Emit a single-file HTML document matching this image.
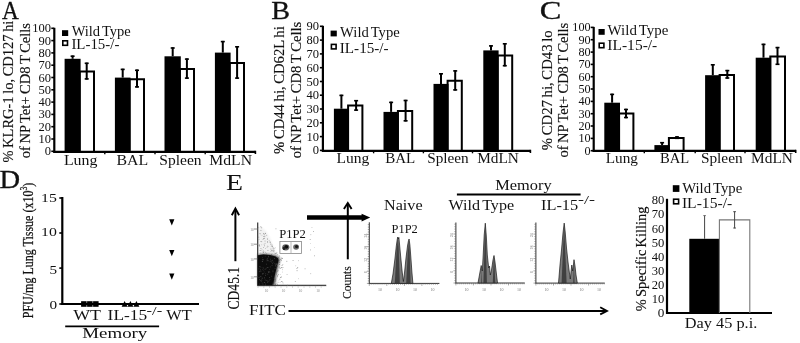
<!DOCTYPE html><html><head><meta charset="utf-8"><title>Figure</title><style>html,body{margin:0;padding:0;background:#fff;}svg{display:block;will-change:transform;}text{font-family:"Liberation Serif",serif;}</style></head><body>
<svg width="800" height="343" viewBox="0 0 800 343">
<rect x="0" y="0" width="800" height="343" fill="#fff"/>
<text x="2.0" y="18.8" font-size="25" text-anchor="start" fill="#111" textLength="16.8" lengthAdjust="spacingAndGlyphs" stroke="#111" stroke-width="0.3">A</text>
<text x="271.2" y="18.9" font-size="25" text-anchor="start" fill="#111" textLength="18.8" lengthAdjust="spacingAndGlyphs" stroke="#111" stroke-width="0.3">B</text>
<text x="539.7" y="19.0" font-size="25.5" text-anchor="start" fill="#111" textLength="21.6" lengthAdjust="spacingAndGlyphs" stroke="#111" stroke-width="0.3">C</text>
<text x="-0.6" y="187.6" font-size="24.5" text-anchor="start" fill="#111" textLength="20.6" lengthAdjust="spacingAndGlyphs" stroke="#111" stroke-width="0.3">D</text>
<text x="225.9" y="190.2" font-size="22.5" text-anchor="start" fill="#111" textLength="17.0" lengthAdjust="spacingAndGlyphs" >E</text>
<line x1="54.3" y1="27.8" x2="54.3" y2="152.8" stroke="#000" stroke-width="2.2"/>
<line x1="53.3" y1="151.8" x2="255.6" y2="151.8" stroke="#000" stroke-width="2.2"/>
<line x1="255.4" y1="150.8" x2="255.4" y2="154.0" stroke="#000" stroke-width="1.6"/>
<line x1="104.8" y1="151.8" x2="104.8" y2="154.3" stroke="#000" stroke-width="1.4"/>
<line x1="155.0" y1="151.8" x2="155.0" y2="154.3" stroke="#000" stroke-width="1.4"/>
<line x1="205.2" y1="151.8" x2="205.2" y2="154.3" stroke="#000" stroke-width="1.4"/>
<line x1="51.3" y1="151.3" x2="54.3" y2="151.3" stroke="#000" stroke-width="1.6"/>
<text x="51.0" y="155.3" font-size="12.5" text-anchor="end" fill="#111" >0</text>
<line x1="51.3" y1="139.0" x2="54.3" y2="139.0" stroke="#000" stroke-width="1.6"/>
<text x="51.0" y="143.0" font-size="12.5" text-anchor="end" fill="#111" >10</text>
<line x1="51.3" y1="126.7" x2="54.3" y2="126.7" stroke="#000" stroke-width="1.6"/>
<text x="51.0" y="130.7" font-size="12.5" text-anchor="end" fill="#111" >20</text>
<line x1="51.3" y1="114.4" x2="54.3" y2="114.4" stroke="#000" stroke-width="1.6"/>
<text x="51.0" y="118.4" font-size="12.5" text-anchor="end" fill="#111" >30</text>
<line x1="51.3" y1="102.1" x2="54.3" y2="102.1" stroke="#000" stroke-width="1.6"/>
<text x="51.0" y="106.1" font-size="12.5" text-anchor="end" fill="#111" >40</text>
<line x1="51.3" y1="89.8" x2="54.3" y2="89.8" stroke="#000" stroke-width="1.6"/>
<text x="51.0" y="93.8" font-size="12.5" text-anchor="end" fill="#111" >50</text>
<line x1="51.3" y1="77.5" x2="54.3" y2="77.5" stroke="#000" stroke-width="1.6"/>
<text x="51.0" y="81.5" font-size="12.5" text-anchor="end" fill="#111" >60</text>
<line x1="51.3" y1="65.2" x2="54.3" y2="65.2" stroke="#000" stroke-width="1.6"/>
<text x="51.0" y="69.2" font-size="12.5" text-anchor="end" fill="#111" >70</text>
<line x1="51.3" y1="52.9" x2="54.3" y2="52.9" stroke="#000" stroke-width="1.6"/>
<text x="51.0" y="56.9" font-size="12.5" text-anchor="end" fill="#111" >80</text>
<line x1="51.3" y1="40.6" x2="54.3" y2="40.6" stroke="#000" stroke-width="1.6"/>
<text x="51.0" y="44.6" font-size="12.5" text-anchor="end" fill="#111" >90</text>
<line x1="51.3" y1="28.3" x2="54.3" y2="28.3" stroke="#000" stroke-width="1.6"/>
<text x="51.0" y="32.3" font-size="12.5" text-anchor="end" fill="#111" >100</text>
<rect x="64.6" y="58.8" width="16.0" height="93.0" fill="#000"/>
<line x1="72.6" y1="55.5" x2="72.6" y2="58.8" stroke="#000" stroke-width="2"/>
<line x1="70.6" y1="56.2" x2="74.6" y2="56.2" stroke="#000" stroke-width="1.6"/>
<path d="M79.7,151.8 V71.5 H94.0 V151.8" fill="none" stroke="#000" stroke-width="2"/>
<line x1="86.7" y1="62.6" x2="86.7" y2="79.6" stroke="#000" stroke-width="2"/>
<line x1="84.7" y1="63.3" x2="88.7" y2="63.3" stroke="#000" stroke-width="1.6"/>
<line x1="84.7" y1="78.9" x2="88.7" y2="78.9" stroke="#000" stroke-width="1.6"/>
<rect x="114.9" y="77.6" width="15.6" height="74.2" fill="#000"/>
<line x1="122.7" y1="68.7" x2="122.7" y2="77.6" stroke="#000" stroke-width="2"/>
<line x1="120.7" y1="69.4" x2="124.7" y2="69.4" stroke="#000" stroke-width="1.6"/>
<path d="M129.6,151.8 V79.3 H144.0 V151.8" fill="none" stroke="#000" stroke-width="2"/>
<line x1="137.0" y1="69.6" x2="137.0" y2="87.6" stroke="#000" stroke-width="2"/>
<line x1="135.0" y1="70.3" x2="139.0" y2="70.3" stroke="#000" stroke-width="1.6"/>
<line x1="135.0" y1="86.9" x2="139.0" y2="86.9" stroke="#000" stroke-width="1.6"/>
<rect x="164.5" y="56.3" width="16.3" height="95.5" fill="#000"/>
<line x1="172.7" y1="47.3" x2="172.7" y2="56.3" stroke="#000" stroke-width="2"/>
<line x1="170.7" y1="48.0" x2="174.7" y2="48.0" stroke="#000" stroke-width="1.6"/>
<path d="M179.9,151.8 V69.0 H194.0 V151.8" fill="none" stroke="#000" stroke-width="2"/>
<line x1="186.9" y1="58.4" x2="186.9" y2="78.8" stroke="#000" stroke-width="2"/>
<line x1="184.9" y1="59.1" x2="188.9" y2="59.1" stroke="#000" stroke-width="1.6"/>
<line x1="184.9" y1="78.1" x2="188.9" y2="78.1" stroke="#000" stroke-width="1.6"/>
<rect x="214.9" y="52.6" width="15.7" height="99.2" fill="#000"/>
<line x1="222.8" y1="40.9" x2="222.8" y2="52.6" stroke="#000" stroke-width="2"/>
<line x1="220.8" y1="41.6" x2="224.8" y2="41.6" stroke="#000" stroke-width="1.6"/>
<path d="M229.7,151.8 V62.9 H244.0 V151.8" fill="none" stroke="#000" stroke-width="2"/>
<line x1="237.1" y1="46.1" x2="237.1" y2="78.8" stroke="#000" stroke-width="2"/>
<line x1="235.1" y1="46.8" x2="239.1" y2="46.8" stroke="#000" stroke-width="1.6"/>
<line x1="235.1" y1="78.1" x2="239.1" y2="78.1" stroke="#000" stroke-width="1.6"/>
<text x="63.9" y="164.6" font-size="14" text-anchor="start" fill="#111" textLength="33.5" lengthAdjust="spacingAndGlyphs" >Lung</text>
<text x="116.4" y="164.6" font-size="14" text-anchor="start" fill="#111" textLength="31.7" lengthAdjust="spacingAndGlyphs" >BAL</text>
<text x="159.3" y="164.6" font-size="14" text-anchor="start" fill="#111" textLength="42.3" lengthAdjust="spacingAndGlyphs" >Spleen</text>
<text x="209.3" y="164.6" font-size="14" text-anchor="start" fill="#111" textLength="42.7" lengthAdjust="spacingAndGlyphs" >MdLN</text>
<rect x="62.0" y="30.2" width="6.2" height="5.8" fill="#000"/>
<rect x="62.8" y="40.8" width="4.7" height="4.5" fill="#fff" stroke="#000" stroke-width="1.6"/>
<text x="71.7" y="36.3" font-size="14.5" text-anchor="start" fill="#111" textLength="59.1" lengthAdjust="spacingAndGlyphs" word-spacing="-1.5">Wild Type</text>
<text x="71.4" y="48.8" font-size="14" text-anchor="start" fill="#111" textLength="48.0" lengthAdjust="spacingAndGlyphs" >IL-15-/-</text>
<text transform="translate(13.3,91.6) rotate(-90)" x="0" y="0" font-size="14.8" text-anchor="middle" fill="#111" stroke="#111" stroke-width="0.15" textLength="142.0" lengthAdjust="spacingAndGlyphs" word-spacing="-1.0">% KLRG-1 lo, CD127 hi</text>
<text transform="translate(30.0,90.6) rotate(-90)" x="0" y="0" font-size="14.8" text-anchor="middle" fill="#111" stroke="#111" stroke-width="0.15" textLength="135.2" lengthAdjust="spacingAndGlyphs" word-spacing="-1.0">of NP Tet+ CD8 T Cells</text>
<line x1="322.9" y1="25.8" x2="322.9" y2="151.8" stroke="#000" stroke-width="2.2"/>
<line x1="321.9" y1="150.8" x2="530.6" y2="150.8" stroke="#000" stroke-width="2.2"/>
<line x1="530.4" y1="149.8" x2="530.4" y2="153.0" stroke="#000" stroke-width="1.6"/>
<line x1="373.6" y1="150.8" x2="373.6" y2="153.3" stroke="#000" stroke-width="1.4"/>
<line x1="423.4" y1="150.8" x2="423.4" y2="153.3" stroke="#000" stroke-width="1.4"/>
<line x1="472.5" y1="150.8" x2="472.5" y2="153.3" stroke="#000" stroke-width="1.4"/>
<line x1="319.9" y1="150.4" x2="322.9" y2="150.4" stroke="#000" stroke-width="1.6"/>
<text x="319.0" y="154.4" font-size="12.5" text-anchor="end" fill="#111" >0</text>
<line x1="319.9" y1="136.6" x2="322.9" y2="136.6" stroke="#000" stroke-width="1.6"/>
<text x="319.0" y="140.6" font-size="12.5" text-anchor="end" fill="#111" >10</text>
<line x1="319.9" y1="122.8" x2="322.9" y2="122.8" stroke="#000" stroke-width="1.6"/>
<text x="319.0" y="126.8" font-size="12.5" text-anchor="end" fill="#111" >20</text>
<line x1="319.9" y1="109.0" x2="322.9" y2="109.0" stroke="#000" stroke-width="1.6"/>
<text x="319.0" y="113.0" font-size="12.5" text-anchor="end" fill="#111" >30</text>
<line x1="319.9" y1="95.2" x2="322.9" y2="95.2" stroke="#000" stroke-width="1.6"/>
<text x="319.0" y="99.2" font-size="12.5" text-anchor="end" fill="#111" >40</text>
<line x1="319.9" y1="81.5" x2="322.9" y2="81.5" stroke="#000" stroke-width="1.6"/>
<text x="319.0" y="85.5" font-size="12.5" text-anchor="end" fill="#111" >50</text>
<line x1="319.9" y1="67.7" x2="322.9" y2="67.7" stroke="#000" stroke-width="1.6"/>
<text x="319.0" y="71.7" font-size="12.5" text-anchor="end" fill="#111" >60</text>
<line x1="319.9" y1="53.9" x2="322.9" y2="53.9" stroke="#000" stroke-width="1.6"/>
<text x="319.0" y="57.9" font-size="12.5" text-anchor="end" fill="#111" >70</text>
<line x1="319.9" y1="40.1" x2="322.9" y2="40.1" stroke="#000" stroke-width="1.6"/>
<text x="319.0" y="44.1" font-size="12.5" text-anchor="end" fill="#111" >80</text>
<line x1="319.9" y1="26.3" x2="322.9" y2="26.3" stroke="#000" stroke-width="1.6"/>
<text x="319.0" y="30.3" font-size="12.5" text-anchor="end" fill="#111" >90</text>
<rect x="333.9" y="108.7" width="15.1" height="42.1" fill="#000"/>
<line x1="341.4" y1="94.7" x2="341.4" y2="108.7" stroke="#000" stroke-width="2"/>
<line x1="339.4" y1="95.4" x2="343.4" y2="95.4" stroke="#000" stroke-width="1.6"/>
<path d="M348.1,150.8 V105.4 H362.4 V150.8" fill="none" stroke="#000" stroke-width="2"/>
<line x1="356.1" y1="100.0" x2="356.1" y2="110.8" stroke="#000" stroke-width="2"/>
<line x1="354.1" y1="100.7" x2="358.1" y2="100.7" stroke="#000" stroke-width="1.6"/>
<line x1="354.1" y1="110.1" x2="358.1" y2="110.1" stroke="#000" stroke-width="1.6"/>
<rect x="383.5" y="111.9" width="15.3" height="38.9" fill="#000"/>
<line x1="391.1" y1="101.7" x2="391.1" y2="111.9" stroke="#000" stroke-width="2"/>
<line x1="389.1" y1="102.4" x2="393.1" y2="102.4" stroke="#000" stroke-width="1.6"/>
<path d="M397.9,150.8 V111.0 H412.2 V150.8" fill="none" stroke="#000" stroke-width="2"/>
<line x1="405.6" y1="99.8" x2="405.6" y2="121.5" stroke="#000" stroke-width="2"/>
<line x1="403.6" y1="100.5" x2="407.6" y2="100.5" stroke="#000" stroke-width="1.6"/>
<line x1="403.6" y1="120.8" x2="407.6" y2="120.8" stroke="#000" stroke-width="1.6"/>
<rect x="433.5" y="83.9" width="15.0" height="66.9" fill="#000"/>
<line x1="441.0" y1="73.1" x2="441.0" y2="83.9" stroke="#000" stroke-width="2"/>
<line x1="439.0" y1="73.8" x2="443.0" y2="73.8" stroke="#000" stroke-width="1.6"/>
<path d="M447.6,150.8 V80.8 H461.8 V150.8" fill="none" stroke="#000" stroke-width="2"/>
<line x1="455.2" y1="70.2" x2="455.2" y2="90.6" stroke="#000" stroke-width="2"/>
<line x1="453.2" y1="70.9" x2="457.2" y2="70.9" stroke="#000" stroke-width="1.6"/>
<line x1="453.2" y1="89.9" x2="457.2" y2="89.9" stroke="#000" stroke-width="1.6"/>
<rect x="483.3" y="50.4" width="15.3" height="100.4" fill="#000"/>
<line x1="491.0" y1="45.2" x2="491.0" y2="50.4" stroke="#000" stroke-width="2"/>
<line x1="489.0" y1="45.9" x2="493.0" y2="45.9" stroke="#000" stroke-width="1.6"/>
<path d="M497.7,150.8 V55.5 H512.2 V150.8" fill="none" stroke="#000" stroke-width="2"/>
<line x1="504.8" y1="43.1" x2="504.8" y2="66.4" stroke="#000" stroke-width="2"/>
<line x1="502.8" y1="43.8" x2="506.8" y2="43.8" stroke="#000" stroke-width="1.6"/>
<line x1="502.8" y1="65.7" x2="506.8" y2="65.7" stroke="#000" stroke-width="1.6"/>
<text x="336.4" y="162.8" font-size="14" text-anchor="start" fill="#111" textLength="32.8" lengthAdjust="spacingAndGlyphs" >Lung</text>
<text x="385.2" y="162.8" font-size="14" text-anchor="start" fill="#111" textLength="30.1" lengthAdjust="spacingAndGlyphs" >BAL</text>
<text x="427.2" y="162.8" font-size="14" text-anchor="start" fill="#111" textLength="41.5" lengthAdjust="spacingAndGlyphs" >Spleen</text>
<text x="477.2" y="162.8" font-size="14" text-anchor="start" fill="#111" textLength="41.7" lengthAdjust="spacingAndGlyphs" >MdLN</text>
<rect x="330.6" y="30.6" width="6.2" height="5.8" fill="#000"/>
<rect x="331.4" y="44.4" width="4.7" height="4.5" fill="#fff" stroke="#000" stroke-width="1.6"/>
<text x="340.1" y="37.2" font-size="14.5" text-anchor="start" fill="#111" textLength="59.6" lengthAdjust="spacingAndGlyphs" word-spacing="-1.5">Wild Type</text>
<text x="339.8" y="52.6" font-size="14" text-anchor="start" fill="#111" textLength="48.8" lengthAdjust="spacingAndGlyphs" >IL-15-/-</text>
<text transform="translate(283.5,90.1) rotate(-90)" x="0" y="0" font-size="14.8" text-anchor="middle" fill="#111" stroke="#111" stroke-width="0.15" textLength="127.6" lengthAdjust="spacingAndGlyphs" word-spacing="-1.0">% CD44 hi, CD62L hi</text>
<text transform="translate(300.6,90.0) rotate(-90)" x="0" y="0" font-size="14.8" text-anchor="middle" fill="#111" stroke="#111" stroke-width="0.15" textLength="136.6" lengthAdjust="spacingAndGlyphs" word-spacing="-1.0">of NP Tet+ CD8 T Cells</text>
<line x1="593.7" y1="26.9" x2="593.7" y2="151.8" stroke="#000" stroke-width="2.2"/>
<line x1="592.7" y1="150.8" x2="795.9" y2="150.8" stroke="#000" stroke-width="2.2"/>
<line x1="795.7" y1="149.8" x2="795.7" y2="153.0" stroke="#000" stroke-width="1.6"/>
<line x1="644.3" y1="150.8" x2="644.3" y2="153.3" stroke="#000" stroke-width="1.4"/>
<line x1="695.2" y1="150.8" x2="695.2" y2="153.3" stroke="#000" stroke-width="1.4"/>
<line x1="745.0" y1="150.8" x2="745.0" y2="153.3" stroke="#000" stroke-width="1.4"/>
<line x1="590.7" y1="150.7" x2="593.7" y2="150.7" stroke="#000" stroke-width="1.6"/>
<text x="590.6" y="154.7" font-size="12.2" text-anchor="end" fill="#111" >0</text>
<line x1="590.7" y1="138.4" x2="593.7" y2="138.4" stroke="#000" stroke-width="1.6"/>
<text x="590.6" y="142.4" font-size="12.2" text-anchor="end" fill="#111" >10</text>
<line x1="590.7" y1="126.0" x2="593.7" y2="126.0" stroke="#000" stroke-width="1.6"/>
<text x="590.6" y="130.0" font-size="12.2" text-anchor="end" fill="#111" >20</text>
<line x1="590.7" y1="113.7" x2="593.7" y2="113.7" stroke="#000" stroke-width="1.6"/>
<text x="590.6" y="117.7" font-size="12.2" text-anchor="end" fill="#111" >30</text>
<line x1="590.7" y1="101.4" x2="593.7" y2="101.4" stroke="#000" stroke-width="1.6"/>
<text x="590.6" y="105.4" font-size="12.2" text-anchor="end" fill="#111" >40</text>
<line x1="590.7" y1="89.0" x2="593.7" y2="89.0" stroke="#000" stroke-width="1.6"/>
<text x="590.6" y="93.0" font-size="12.2" text-anchor="end" fill="#111" >50</text>
<line x1="590.7" y1="76.7" x2="593.7" y2="76.7" stroke="#000" stroke-width="1.6"/>
<text x="590.6" y="80.7" font-size="12.2" text-anchor="end" fill="#111" >60</text>
<line x1="590.7" y1="64.4" x2="593.7" y2="64.4" stroke="#000" stroke-width="1.6"/>
<text x="590.6" y="68.4" font-size="12.2" text-anchor="end" fill="#111" >70</text>
<line x1="590.7" y1="52.1" x2="593.7" y2="52.1" stroke="#000" stroke-width="1.6"/>
<text x="590.6" y="56.1" font-size="12.2" text-anchor="end" fill="#111" >80</text>
<line x1="590.7" y1="39.7" x2="593.7" y2="39.7" stroke="#000" stroke-width="1.6"/>
<text x="590.6" y="43.7" font-size="12.2" text-anchor="end" fill="#111" >90</text>
<line x1="590.7" y1="27.4" x2="593.7" y2="27.4" stroke="#000" stroke-width="1.6"/>
<text x="590.6" y="31.4" font-size="12.2" text-anchor="end" fill="#111" >100</text>
<rect x="604.3" y="102.7" width="15.7" height="48.1" fill="#000"/>
<line x1="612.1" y1="93.7" x2="612.1" y2="102.7" stroke="#000" stroke-width="2"/>
<line x1="610.1" y1="94.4" x2="614.1" y2="94.4" stroke="#000" stroke-width="1.6"/>
<path d="M619.1,150.8 V113.6 H633.4 V150.8" fill="none" stroke="#000" stroke-width="2"/>
<line x1="626.0" y1="108.8" x2="626.0" y2="118.2" stroke="#000" stroke-width="2"/>
<line x1="624.0" y1="109.5" x2="628.0" y2="109.5" stroke="#000" stroke-width="1.6"/>
<line x1="624.0" y1="117.5" x2="628.0" y2="117.5" stroke="#000" stroke-width="1.6"/>
<rect x="654.4" y="145.1" width="15.4" height="5.7" fill="#000"/>
<line x1="662.1" y1="142.0" x2="662.1" y2="145.1" stroke="#000" stroke-width="2"/>
<line x1="660.1" y1="142.7" x2="664.1" y2="142.7" stroke="#000" stroke-width="1.6"/>
<path d="M668.9,150.8 V138.0 H683.6 V150.8" fill="none" stroke="#000" stroke-width="2"/>
<line x1="677.0" y1="136.3" x2="677.0" y2="139.0" stroke="#000" stroke-width="2"/>
<line x1="675.0" y1="137.0" x2="679.0" y2="137.0" stroke="#000" stroke-width="1.6"/>
<line x1="675.0" y1="138.3" x2="679.0" y2="138.3" stroke="#000" stroke-width="1.6"/>
<rect x="705.1" y="75.2" width="15.4" height="75.6" fill="#000"/>
<line x1="712.8" y1="64.1" x2="712.8" y2="75.2" stroke="#000" stroke-width="2"/>
<line x1="710.8" y1="64.8" x2="714.8" y2="64.8" stroke="#000" stroke-width="1.6"/>
<path d="M719.6,150.8 V75.0 H734.0 V150.8" fill="none" stroke="#000" stroke-width="2"/>
<line x1="727.3" y1="69.9" x2="727.3" y2="78.7" stroke="#000" stroke-width="2"/>
<line x1="725.3" y1="70.6" x2="729.3" y2="70.6" stroke="#000" stroke-width="1.6"/>
<line x1="725.3" y1="78.0" x2="729.3" y2="78.0" stroke="#000" stroke-width="1.6"/>
<rect x="755.7" y="57.7" width="15.5" height="93.1" fill="#000"/>
<line x1="763.5" y1="43.7" x2="763.5" y2="57.7" stroke="#000" stroke-width="2"/>
<line x1="761.5" y1="44.4" x2="765.5" y2="44.4" stroke="#000" stroke-width="1.6"/>
<path d="M770.3,150.8 V56.4 H785.0 V150.8" fill="none" stroke="#000" stroke-width="2"/>
<line x1="777.5" y1="46.9" x2="777.5" y2="65.0" stroke="#000" stroke-width="2"/>
<line x1="775.5" y1="47.6" x2="779.5" y2="47.6" stroke="#000" stroke-width="1.6"/>
<line x1="775.5" y1="64.3" x2="779.5" y2="64.3" stroke="#000" stroke-width="1.6"/>
<text x="605.7" y="163.3" font-size="14" text-anchor="start" fill="#111" textLength="32.2" lengthAdjust="spacingAndGlyphs" >Lung</text>
<text x="660.0" y="163.3" font-size="14" text-anchor="start" fill="#111" textLength="29.2" lengthAdjust="spacingAndGlyphs" >BAL</text>
<text x="700.9" y="163.3" font-size="14" text-anchor="start" fill="#111" textLength="41.8" lengthAdjust="spacingAndGlyphs" >Spleen</text>
<text x="751.1" y="163.3" font-size="14" text-anchor="start" fill="#111" textLength="41.8" lengthAdjust="spacingAndGlyphs" >MdLN</text>
<rect x="598.5" y="29.0" width="6.2" height="5.8" fill="#000"/>
<rect x="599.2" y="43.2" width="4.7" height="4.5" fill="#fff" stroke="#000" stroke-width="1.6"/>
<text x="607.6" y="34.9" font-size="14.5" text-anchor="start" fill="#111" textLength="60.8" lengthAdjust="spacingAndGlyphs" word-spacing="-1.5">Wild Type</text>
<text x="607.3" y="50.3" font-size="14" text-anchor="start" fill="#111" textLength="50.0" lengthAdjust="spacingAndGlyphs" >IL-15-/-</text>
<text transform="translate(551.9,90.3) rotate(-90)" x="0" y="0" font-size="14.8" text-anchor="middle" fill="#111" stroke="#111" stroke-width="0.15" textLength="119.8" lengthAdjust="spacingAndGlyphs" word-spacing="-1.0">% CD27 hi, CD43 lo</text>
<text transform="translate(567.6,90.2) rotate(-90)" x="0" y="0" font-size="14.8" text-anchor="middle" fill="#111" stroke="#111" stroke-width="0.15" textLength="134.8" lengthAdjust="spacingAndGlyphs" word-spacing="-1.0">of NP Tet+ CD8 T Cells</text>
<line x1="62.3" y1="197.0" x2="62.3" y2="305.0" stroke="#000" stroke-width="2.2"/>
<line x1="61.3" y1="304.0" x2="199.0" y2="304.0" stroke="#000" stroke-width="2.0"/>
<line x1="59.3" y1="198.0" x2="62.3" y2="198.0" stroke="#000" stroke-width="1.6"/>
<text x="56.9" y="201.7" font-size="13" text-anchor="end" fill="#111" textLength="15.8" lengthAdjust="spacingAndGlyphs" >15</text>
<line x1="59.3" y1="233.0" x2="62.3" y2="233.0" stroke="#000" stroke-width="1.6"/>
<text x="56.9" y="235.9" font-size="13" text-anchor="end" fill="#111" textLength="15.8" lengthAdjust="spacingAndGlyphs" >10</text>
<line x1="59.3" y1="268.1" x2="62.3" y2="268.1" stroke="#000" stroke-width="1.6"/>
<text x="57.0" y="273.8" font-size="13.5" text-anchor="end" fill="#111" textLength="7.6" lengthAdjust="spacingAndGlyphs" >5</text>
<line x1="59.3" y1="304.0" x2="62.3" y2="304.0" stroke="#000" stroke-width="1.6"/>
<text x="57.0" y="309.0" font-size="13.5" text-anchor="end" fill="#111" textLength="7.6" lengthAdjust="spacingAndGlyphs" >0</text>
<rect x="81.1" y="301.2" width="5.5" height="5.6" fill="#000"/>
<rect x="87.1" y="301.2" width="5.5" height="5.6" fill="#000"/>
<rect x="93.1" y="301.2" width="5.5" height="5.6" fill="#000"/>
<polygon points="121.6,306.8 127.6,306.8 124.6,300.9" fill="#000"/>
<polygon points="127.4,306.8 133.4,306.8 130.4,300.9" fill="#000"/>
<polygon points="133.4,306.8 139.4,306.8 136.4,300.9" fill="#000"/>
<polygon points="169.2,219.2 174.4,219.2 171.8,225.4" fill="#000"/>
<polygon points="169.2,250.0 174.4,250.0 171.8,256.2" fill="#000"/>
<polygon points="169.2,273.5 174.4,273.5 171.8,279.7" fill="#000"/>
<text x="73.2" y="319.9" font-size="14.5" text-anchor="start" fill="#111" textLength="27.8" lengthAdjust="spacingAndGlyphs" >WT</text>
<text x="107.6" y="320.1" font-size="14.5" text-anchor="start" fill="#111" textLength="39.6" lengthAdjust="spacingAndGlyphs" >IL-15</text>
<text x="146.6" y="315.3" font-size="13" text-anchor="start" fill="#111" textLength="15.6" lengthAdjust="spacingAndGlyphs" >-/-</text>
<text x="166.3" y="319.9" font-size="14.5" text-anchor="start" fill="#111" textLength="25.5" lengthAdjust="spacingAndGlyphs" >WT</text>
<line x1="65.2" y1="326.4" x2="159.1" y2="326.4" stroke="#000" stroke-width="1.8"/>
<text x="82.3" y="338.2" font-size="14.5" text-anchor="start" fill="#111" textLength="65.0" lengthAdjust="spacingAndGlyphs" >Memory</text>
<text transform="translate(32.6,250.5) rotate(-90)" x="0" y="0" font-size="15.5" text-anchor="middle" fill="#111" stroke="#111" stroke-width="0.25" textLength="135.6" lengthAdjust="spacingAndGlyphs">PFU/mg Lung Tissue (x10<tspan font-size="10" dy="-6">3</tspan><tspan dy="6">)</tspan></text>
<line x1="235.4" y1="261.2" x2="235.4" y2="209.0" stroke="#000" stroke-width="2.0"/>
<path d="M231.8,215.3 L235.4,208.6 L239.1,215.3" fill="none" stroke="#000" stroke-width="1.9"/>
<text transform="translate(238.9,288.2) rotate(-90)" x="0" y="0" font-size="16.5" text-anchor="middle" fill="#111" stroke="#111" stroke-width="0.15" textLength="42.5" lengthAdjust="spacingAndGlyphs">CD45.1</text>
<line x1="257.7" y1="222.5" x2="257.7" y2="285.5" stroke="#333" stroke-width="1.2"/>
<line x1="257.2" y1="285.3" x2="326.2" y2="285.3" stroke="#333" stroke-width="1.2"/>
<line x1="254.0" y1="229.0" x2="257.7" y2="229.0" stroke="#777" stroke-width="0.8"/>
<text x="253.8" y="231.0" font-size="3.5" text-anchor="end" fill="#888" >10</text>
<line x1="254.0" y1="244.2" x2="257.7" y2="244.2" stroke="#777" stroke-width="0.8"/>
<text x="253.8" y="246.2" font-size="3.5" text-anchor="end" fill="#888" >10</text>
<line x1="254.0" y1="258.9" x2="257.7" y2="258.9" stroke="#777" stroke-width="0.8"/>
<text x="253.8" y="260.9" font-size="3.5" text-anchor="end" fill="#888" >10</text>
<line x1="254.0" y1="276.8" x2="257.7" y2="276.8" stroke="#777" stroke-width="0.8"/>
<text x="253.8" y="278.8" font-size="3.5" text-anchor="end" fill="#888" >10</text>
<text x="266.5" y="291.5" font-size="3.5" text-anchor="middle" fill="#888" >10</text>
<text x="283.5" y="291.5" font-size="3.5" text-anchor="middle" fill="#888" >10</text>
<text x="300.5" y="291.5" font-size="3.5" text-anchor="middle" fill="#888" >10</text>
<text x="318.0" y="291.5" font-size="3.5" text-anchor="middle" fill="#888" >10</text>
<line x1="258.0" y1="285.5" x2="258.0" y2="287.7" stroke="#999" stroke-width="0.5"/>
<line x1="259.1" y1="285.5" x2="259.1" y2="286.5" stroke="#999" stroke-width="0.5"/>
<line x1="260.3" y1="285.5" x2="260.3" y2="286.5" stroke="#999" stroke-width="0.5"/>
<line x1="261.4" y1="285.5" x2="261.4" y2="286.5" stroke="#999" stroke-width="0.5"/>
<line x1="262.6" y1="285.5" x2="262.6" y2="286.5" stroke="#999" stroke-width="0.5"/>
<line x1="263.8" y1="285.5" x2="263.8" y2="287.7" stroke="#999" stroke-width="0.5"/>
<line x1="264.9" y1="285.5" x2="264.9" y2="286.5" stroke="#999" stroke-width="0.5"/>
<line x1="266.1" y1="285.5" x2="266.1" y2="286.5" stroke="#999" stroke-width="0.5"/>
<line x1="267.2" y1="285.5" x2="267.2" y2="286.5" stroke="#999" stroke-width="0.5"/>
<line x1="268.4" y1="285.5" x2="268.4" y2="286.5" stroke="#999" stroke-width="0.5"/>
<line x1="269.5" y1="285.5" x2="269.5" y2="287.7" stroke="#999" stroke-width="0.5"/>
<line x1="270.6" y1="285.5" x2="270.6" y2="286.5" stroke="#999" stroke-width="0.5"/>
<line x1="271.8" y1="285.5" x2="271.8" y2="286.5" stroke="#999" stroke-width="0.5"/>
<line x1="272.9" y1="285.5" x2="272.9" y2="286.5" stroke="#999" stroke-width="0.5"/>
<line x1="274.1" y1="285.5" x2="274.1" y2="286.5" stroke="#999" stroke-width="0.5"/>
<line x1="275.2" y1="285.5" x2="275.2" y2="287.7" stroke="#999" stroke-width="0.5"/>
<line x1="276.4" y1="285.5" x2="276.4" y2="286.5" stroke="#999" stroke-width="0.5"/>
<line x1="277.6" y1="285.5" x2="277.6" y2="286.5" stroke="#999" stroke-width="0.5"/>
<line x1="278.7" y1="285.5" x2="278.7" y2="286.5" stroke="#999" stroke-width="0.5"/>
<line x1="279.9" y1="285.5" x2="279.9" y2="286.5" stroke="#999" stroke-width="0.5"/>
<line x1="281.0" y1="285.5" x2="281.0" y2="287.7" stroke="#999" stroke-width="0.5"/>
<line x1="282.1" y1="285.5" x2="282.1" y2="286.5" stroke="#999" stroke-width="0.5"/>
<line x1="283.3" y1="285.5" x2="283.3" y2="286.5" stroke="#999" stroke-width="0.5"/>
<line x1="284.4" y1="285.5" x2="284.4" y2="286.5" stroke="#999" stroke-width="0.5"/>
<line x1="285.6" y1="285.5" x2="285.6" y2="286.5" stroke="#999" stroke-width="0.5"/>
<line x1="286.8" y1="285.5" x2="286.8" y2="287.7" stroke="#999" stroke-width="0.5"/>
<line x1="287.9" y1="285.5" x2="287.9" y2="286.5" stroke="#999" stroke-width="0.5"/>
<line x1="289.1" y1="285.5" x2="289.1" y2="286.5" stroke="#999" stroke-width="0.5"/>
<line x1="290.2" y1="285.5" x2="290.2" y2="286.5" stroke="#999" stroke-width="0.5"/>
<line x1="291.4" y1="285.5" x2="291.4" y2="286.5" stroke="#999" stroke-width="0.5"/>
<line x1="292.5" y1="285.5" x2="292.5" y2="287.7" stroke="#999" stroke-width="0.5"/>
<line x1="293.6" y1="285.5" x2="293.6" y2="286.5" stroke="#999" stroke-width="0.5"/>
<line x1="294.8" y1="285.5" x2="294.8" y2="286.5" stroke="#999" stroke-width="0.5"/>
<line x1="295.9" y1="285.5" x2="295.9" y2="286.5" stroke="#999" stroke-width="0.5"/>
<line x1="297.1" y1="285.5" x2="297.1" y2="286.5" stroke="#999" stroke-width="0.5"/>
<line x1="298.2" y1="285.5" x2="298.2" y2="287.7" stroke="#999" stroke-width="0.5"/>
<line x1="299.4" y1="285.5" x2="299.4" y2="286.5" stroke="#999" stroke-width="0.5"/>
<line x1="300.6" y1="285.5" x2="300.6" y2="286.5" stroke="#999" stroke-width="0.5"/>
<line x1="301.7" y1="285.5" x2="301.7" y2="286.5" stroke="#999" stroke-width="0.5"/>
<line x1="302.9" y1="285.5" x2="302.9" y2="286.5" stroke="#999" stroke-width="0.5"/>
<line x1="304.0" y1="285.5" x2="304.0" y2="287.7" stroke="#999" stroke-width="0.5"/>
<line x1="305.1" y1="285.5" x2="305.1" y2="286.5" stroke="#999" stroke-width="0.5"/>
<line x1="306.3" y1="285.5" x2="306.3" y2="286.5" stroke="#999" stroke-width="0.5"/>
<line x1="307.4" y1="285.5" x2="307.4" y2="286.5" stroke="#999" stroke-width="0.5"/>
<line x1="308.6" y1="285.5" x2="308.6" y2="286.5" stroke="#999" stroke-width="0.5"/>
<line x1="309.8" y1="285.5" x2="309.8" y2="287.7" stroke="#999" stroke-width="0.5"/>
<line x1="310.9" y1="285.5" x2="310.9" y2="286.5" stroke="#999" stroke-width="0.5"/>
<line x1="312.1" y1="285.5" x2="312.1" y2="286.5" stroke="#999" stroke-width="0.5"/>
<line x1="313.2" y1="285.5" x2="313.2" y2="286.5" stroke="#999" stroke-width="0.5"/>
<line x1="314.4" y1="285.5" x2="314.4" y2="286.5" stroke="#999" stroke-width="0.5"/>
<line x1="315.5" y1="285.5" x2="315.5" y2="287.7" stroke="#999" stroke-width="0.5"/>
<line x1="316.6" y1="285.5" x2="316.6" y2="286.5" stroke="#999" stroke-width="0.5"/>
<line x1="317.8" y1="285.5" x2="317.8" y2="286.5" stroke="#999" stroke-width="0.5"/>
<line x1="318.9" y1="285.5" x2="318.9" y2="286.5" stroke="#999" stroke-width="0.5"/>
<line x1="320.1" y1="285.5" x2="320.1" y2="286.5" stroke="#999" stroke-width="0.5"/>
<line x1="321.2" y1="285.5" x2="321.2" y2="287.7" stroke="#999" stroke-width="0.5"/>
<line x1="322.4" y1="285.5" x2="322.4" y2="286.5" stroke="#999" stroke-width="0.5"/>
<line x1="323.6" y1="285.5" x2="323.6" y2="286.5" stroke="#999" stroke-width="0.5"/>
<line x1="324.7" y1="285.5" x2="324.7" y2="286.5" stroke="#999" stroke-width="0.5"/>
<line x1="325.9" y1="285.5" x2="325.9" y2="286.5" stroke="#999" stroke-width="0.5"/>
<defs><filter id="bl1" x="-50%" y="-50%" width="200%" height="200%"><feGaussianBlur stdDeviation="1.2"/></filter><filter id="bl2" x="-50%" y="-50%" width="200%" height="200%"><feGaussianBlur stdDeviation="0.8"/></filter></defs>
<path d="M258.3,227 L262,228 L266,231 L270,238 L273,246 L276,252 L279,256 L258.3,257 Z" fill="#000" opacity="0.05" filter="url(#bl1)"/>
<rect x="262.5" y="256.1" width="0.7" height="0.7" fill="rgb(97,97,97)"/><rect x="268.7" y="271.2" width="0.7" height="0.7" fill="rgb(128,128,128)"/><rect x="274.9" y="283.6" width="0.7" height="0.7" fill="rgb(143,143,143)"/><rect x="282.6" y="282.5" width="0.7" height="0.7" fill="rgb(161,161,161)"/><rect x="280.9" y="276.9" width="0.7" height="0.7" fill="rgb(147,147,147)"/><rect x="268.8" y="240.4" width="0.7" height="0.7" fill="rgb(158,158,158)"/><rect x="264.2" y="245.5" width="0.7" height="0.7" fill="rgb(116,116,116)"/><rect x="272.2" y="259.2" width="0.7" height="0.7" fill="rgb(143,143,143)"/><rect x="263.7" y="277.7" width="0.7" height="0.7" fill="rgb(175,175,175)"/><rect x="276.7" y="267.6" width="0.7" height="0.7" fill="rgb(160,160,160)"/><rect x="264.8" y="279.8" width="0.7" height="0.7" fill="rgb(103,103,103)"/><rect x="273.3" y="260.6" width="0.7" height="0.7" fill="rgb(123,123,123)"/><rect x="265.8" y="255.6" width="0.7" height="0.7" fill="rgb(104,104,104)"/><rect x="277.3" y="283.9" width="0.7" height="0.7" fill="rgb(94,94,94)"/><rect x="258.6" y="239.3" width="0.7" height="0.7" fill="rgb(141,141,141)"/><rect x="271.8" y="269.7" width="0.7" height="0.7" fill="rgb(173,173,173)"/><rect x="275.9" y="258.1" width="0.7" height="0.7" fill="rgb(97,97,97)"/><rect x="263.3" y="252.2" width="0.7" height="0.7" fill="rgb(99,99,99)"/><rect x="270.5" y="258.9" width="0.7" height="0.7" fill="rgb(157,157,157)"/><rect x="281.3" y="281.1" width="0.7" height="0.7" fill="rgb(91,91,91)"/><rect x="274.8" y="280.8" width="0.7" height="0.7" fill="rgb(124,124,124)"/><rect x="265.2" y="262.8" width="0.7" height="0.7" fill="rgb(154,154,154)"/><rect x="266.4" y="234.9" width="0.7" height="0.7" fill="rgb(133,133,133)"/><rect x="263.2" y="271.0" width="0.7" height="0.7" fill="rgb(106,106,106)"/><rect x="276.3" y="273.7" width="0.7" height="0.7" fill="rgb(118,118,118)"/><rect x="273.6" y="278.0" width="0.7" height="0.7" fill="rgb(169,169,169)"/><rect x="266.7" y="247.3" width="0.7" height="0.7" fill="rgb(166,166,166)"/><rect x="278.6" y="282.1" width="0.7" height="0.7" fill="rgb(187,187,187)"/><rect x="261.9" y="279.9" width="0.7" height="0.7" fill="rgb(185,185,185)"/><rect x="277.6" y="281.9" width="0.7" height="0.7" fill="rgb(185,185,185)"/><rect x="294.9" y="281.3" width="0.7" height="0.7" fill="rgb(119,119,119)"/><rect x="258.8" y="280.5" width="0.7" height="0.7" fill="rgb(178,178,178)"/><rect x="265.3" y="275.0" width="0.7" height="0.7" fill="rgb(162,162,162)"/><rect x="274.5" y="279.1" width="0.7" height="0.7" fill="rgb(98,98,98)"/><rect x="260.6" y="241.1" width="0.7" height="0.7" fill="rgb(114,114,114)"/><rect x="262.6" y="254.7" width="0.7" height="0.7" fill="rgb(167,167,167)"/><rect x="270.9" y="245.8" width="0.7" height="0.7" fill="rgb(116,116,116)"/><rect x="272.7" y="247.1" width="0.7" height="0.7" fill="rgb(154,154,154)"/><rect x="280.1" y="281.8" width="0.7" height="0.7" fill="rgb(199,199,199)"/><rect x="272.0" y="246.0" width="0.7" height="0.7" fill="rgb(141,141,141)"/><rect x="261.1" y="273.7" width="0.7" height="0.7" fill="rgb(171,171,171)"/><rect x="286.5" y="260.9" width="0.7" height="0.7" fill="rgb(96,96,96)"/><rect x="258.5" y="244.9" width="0.7" height="0.7" fill="rgb(135,135,135)"/><rect x="266.6" y="264.1" width="0.7" height="0.7" fill="rgb(193,193,193)"/><rect x="272.6" y="278.8" width="0.7" height="0.7" fill="rgb(158,158,158)"/><rect x="259.8" y="234.5" width="0.7" height="0.7" fill="rgb(189,189,189)"/><rect x="273.4" y="262.8" width="0.7" height="0.7" fill="rgb(185,185,185)"/><rect x="263.2" y="254.4" width="0.7" height="0.7" fill="rgb(120,120,120)"/><rect x="278.5" y="280.5" width="0.7" height="0.7" fill="rgb(187,187,187)"/><rect x="263.5" y="273.7" width="0.7" height="0.7" fill="rgb(90,90,90)"/><rect x="261.4" y="244.5" width="0.7" height="0.7" fill="rgb(178,178,178)"/><rect x="278.3" y="274.4" width="0.7" height="0.7" fill="rgb(110,110,110)"/><rect x="263.3" y="277.9" width="0.7" height="0.7" fill="rgb(116,116,116)"/><rect x="298.1" y="260.4" width="0.7" height="0.7" fill="rgb(164,164,164)"/><rect x="267.3" y="238.3" width="0.7" height="0.7" fill="rgb(156,156,156)"/><rect x="267.8" y="263.7" width="0.7" height="0.7" fill="rgb(109,109,109)"/><rect x="264.5" y="235.8" width="0.7" height="0.7" fill="rgb(94,94,94)"/><rect x="271.1" y="283.6" width="0.7" height="0.7" fill="rgb(92,92,92)"/><rect x="276.4" y="261.8" width="0.7" height="0.7" fill="rgb(143,143,143)"/><rect x="267.1" y="241.7" width="0.7" height="0.7" fill="rgb(100,100,100)"/><rect x="266.3" y="253.5" width="0.7" height="0.7" fill="rgb(149,149,149)"/><rect x="270.6" y="248.7" width="0.7" height="0.7" fill="rgb(102,102,102)"/><rect x="264.1" y="234.2" width="0.7" height="0.7" fill="rgb(189,189,189)"/><rect x="264.1" y="280.5" width="0.7" height="0.7" fill="rgb(195,195,195)"/><rect x="266.7" y="269.9" width="0.7" height="0.7" fill="rgb(161,161,161)"/><rect x="267.3" y="259.9" width="0.7" height="0.7" fill="rgb(156,156,156)"/><rect x="270.6" y="280.2" width="0.7" height="0.7" fill="rgb(102,102,102)"/><rect x="265.2" y="282.3" width="0.7" height="0.7" fill="rgb(162,162,162)"/><rect x="261.7" y="257.2" width="0.7" height="0.7" fill="rgb(96,96,96)"/><rect x="262.6" y="283.1" width="0.7" height="0.7" fill="rgb(119,119,119)"/><rect x="273.7" y="248.4" width="0.7" height="0.7" fill="rgb(124,124,124)"/><rect x="260.6" y="248.3" width="0.7" height="0.7" fill="rgb(113,113,113)"/><rect x="281.8" y="267.6" width="0.7" height="0.7" fill="rgb(193,193,193)"/><rect x="263.4" y="261.3" width="0.7" height="0.7" fill="rgb(129,129,129)"/><rect x="272.8" y="273.5" width="0.7" height="0.7" fill="rgb(102,102,102)"/><rect x="272.1" y="250.5" width="0.7" height="0.7" fill="rgb(102,102,102)"/><rect x="265.3" y="248.1" width="0.7" height="0.7" fill="rgb(165,165,165)"/><rect x="292.7" y="260.3" width="0.7" height="0.7" fill="rgb(96,96,96)"/><rect x="273.6" y="264.9" width="0.7" height="0.7" fill="rgb(159,159,159)"/><rect x="260.6" y="230.0" width="0.7" height="0.7" fill="rgb(111,111,111)"/><rect x="280.4" y="259.2" width="0.7" height="0.7" fill="rgb(135,135,135)"/><rect x="267.7" y="281.8" width="0.7" height="0.7" fill="rgb(131,131,131)"/><rect x="275.4" y="270.7" width="0.7" height="0.7" fill="rgb(98,98,98)"/><rect x="266.9" y="275.5" width="0.7" height="0.7" fill="rgb(169,169,169)"/><rect x="282.0" y="271.7" width="0.7" height="0.7" fill="rgb(178,178,178)"/><rect x="269.4" y="261.6" width="0.7" height="0.7" fill="rgb(118,118,118)"/><rect x="280.8" y="267.4" width="0.7" height="0.7" fill="rgb(129,129,129)"/><rect x="281.3" y="267.0" width="0.7" height="0.7" fill="rgb(121,121,121)"/><rect x="263.3" y="233.5" width="0.7" height="0.7" fill="rgb(90,90,90)"/><rect x="264.9" y="256.0" width="0.7" height="0.7" fill="rgb(141,141,141)"/><rect x="269.2" y="278.1" width="0.7" height="0.7" fill="rgb(136,136,136)"/><rect x="298.2" y="278.4" width="0.7" height="0.7" fill="rgb(180,180,180)"/><rect x="278.6" y="261.9" width="0.7" height="0.7" fill="rgb(104,104,104)"/><rect x="273.9" y="260.6" width="0.7" height="0.7" fill="rgb(176,176,176)"/><rect x="269.7" y="241.7" width="0.7" height="0.7" fill="rgb(95,95,95)"/><rect x="276.7" y="271.0" width="0.7" height="0.7" fill="rgb(101,101,101)"/><rect x="263.6" y="262.3" width="0.7" height="0.7" fill="rgb(177,177,177)"/><rect x="269.3" y="267.7" width="0.7" height="0.7" fill="rgb(197,197,197)"/><rect x="258.8" y="282.1" width="0.7" height="0.7" fill="rgb(182,182,182)"/><rect x="271.4" y="258.4" width="0.7" height="0.7" fill="rgb(155,155,155)"/><rect x="304.7" y="268.5" width="0.7" height="0.7" fill="rgb(122,122,122)"/><rect x="259.1" y="244.2" width="0.7" height="0.7" fill="rgb(154,154,154)"/><rect x="266.6" y="267.5" width="0.7" height="0.7" fill="rgb(163,163,163)"/><rect x="259.6" y="233.2" width="0.7" height="0.7" fill="rgb(180,180,180)"/><rect x="264.0" y="237.9" width="0.7" height="0.7" fill="rgb(106,106,106)"/><rect x="281.7" y="265.0" width="0.7" height="0.7" fill="rgb(97,97,97)"/><rect x="279.2" y="255.7" width="0.7" height="0.7" fill="rgb(122,122,122)"/><rect x="271.5" y="269.8" width="0.7" height="0.7" fill="rgb(93,93,93)"/><rect x="270.1" y="271.0" width="0.7" height="0.7" fill="rgb(167,167,167)"/><rect x="260.0" y="271.1" width="0.7" height="0.7" fill="rgb(200,200,200)"/><rect x="273.4" y="249.8" width="0.7" height="0.7" fill="rgb(116,116,116)"/><rect x="275.6" y="228.5" width="0.7" height="0.7" fill="rgb(121,121,121)"/><rect x="258.8" y="279.3" width="0.7" height="0.7" fill="rgb(184,184,184)"/><rect x="314.3" y="255.5" width="0.7" height="0.7" fill="rgb(118,118,118)"/><rect x="276.5" y="283.0" width="0.7" height="0.7" fill="rgb(185,185,185)"/><rect x="262.0" y="283.3" width="0.7" height="0.7" fill="rgb(174,174,174)"/><rect x="272.0" y="245.9" width="0.7" height="0.7" fill="rgb(138,138,138)"/><rect x="272.9" y="257.4" width="0.7" height="0.7" fill="rgb(123,123,123)"/><rect x="260.8" y="250.3" width="0.7" height="0.7" fill="rgb(181,181,181)"/><rect x="262.9" y="250.5" width="0.7" height="0.7" fill="rgb(143,143,143)"/><rect x="258.6" y="284.1" width="0.7" height="0.7" fill="rgb(123,123,123)"/><rect x="296.6" y="268.1" width="0.7" height="0.7" fill="rgb(98,98,98)"/><rect x="281.9" y="257.9" width="0.7" height="0.7" fill="rgb(125,125,125)"/><rect x="271.0" y="250.1" width="0.7" height="0.7" fill="rgb(116,116,116)"/><rect x="261.1" y="276.3" width="0.7" height="0.7" fill="rgb(166,166,166)"/><rect x="271.6" y="283.2" width="0.7" height="0.7" fill="rgb(109,109,109)"/><rect x="271.4" y="280.1" width="0.7" height="0.7" fill="rgb(166,166,166)"/><rect x="267.1" y="241.5" width="0.7" height="0.7" fill="rgb(134,134,134)"/><rect x="268.6" y="271.7" width="0.7" height="0.7" fill="rgb(98,98,98)"/><rect x="264.8" y="233.0" width="0.7" height="0.7" fill="rgb(94,94,94)"/><rect x="260.2" y="254.7" width="0.7" height="0.7" fill="rgb(172,172,172)"/><rect x="279.0" y="264.0" width="0.7" height="0.7" fill="rgb(90,90,90)"/><rect x="265.1" y="251.9" width="0.7" height="0.7" fill="rgb(158,158,158)"/><rect x="270.5" y="269.0" width="0.7" height="0.7" fill="rgb(111,111,111)"/><rect x="267.2" y="239.3" width="0.7" height="0.7" fill="rgb(140,140,140)"/><rect x="265.3" y="264.0" width="0.7" height="0.7" fill="rgb(121,121,121)"/><rect x="263.6" y="267.3" width="0.7" height="0.7" fill="rgb(110,110,110)"/><rect x="266.7" y="256.7" width="0.7" height="0.7" fill="rgb(140,140,140)"/><rect x="265.3" y="265.2" width="0.7" height="0.7" fill="rgb(195,195,195)"/><rect x="314.2" y="247.2" width="0.7" height="0.7" fill="rgb(199,199,199)"/><rect x="261.4" y="241.4" width="0.7" height="0.7" fill="rgb(136,136,136)"/><rect x="274.9" y="261.9" width="0.7" height="0.7" fill="rgb(188,188,188)"/><rect x="311.6" y="227.1" width="0.7" height="0.7" fill="rgb(163,163,163)"/><rect x="279.1" y="266.2" width="0.7" height="0.7" fill="rgb(197,197,197)"/><rect x="262.7" y="278.5" width="0.7" height="0.7" fill="rgb(189,189,189)"/><rect x="269.7" y="266.5" width="0.7" height="0.7" fill="rgb(123,123,123)"/><rect x="275.4" y="271.6" width="0.7" height="0.7" fill="rgb(184,184,184)"/><rect x="269.1" y="272.9" width="0.7" height="0.7" fill="rgb(155,155,155)"/><rect x="280.3" y="277.3" width="0.7" height="0.7" fill="rgb(93,93,93)"/><rect x="275.1" y="247.5" width="0.7" height="0.7" fill="rgb(185,185,185)"/><rect x="261.5" y="261.2" width="0.7" height="0.7" fill="rgb(122,122,122)"/><rect x="272.7" y="248.5" width="0.7" height="0.7" fill="rgb(119,119,119)"/><rect x="258.4" y="270.6" width="0.7" height="0.7" fill="rgb(133,133,133)"/><rect x="263.5" y="236.1" width="0.7" height="0.7" fill="rgb(91,91,91)"/><rect x="267.9" y="281.6" width="0.7" height="0.7" fill="rgb(140,140,140)"/><rect x="259.1" y="245.3" width="0.7" height="0.7" fill="rgb(104,104,104)"/><rect x="263.4" y="259.1" width="0.7" height="0.7" fill="rgb(127,127,127)"/><rect x="259.2" y="275.7" width="0.7" height="0.7" fill="rgb(135,135,135)"/><rect x="279.3" y="267.7" width="0.7" height="0.7" fill="rgb(190,190,190)"/><rect x="309.8" y="239.2" width="0.7" height="0.7" fill="rgb(102,102,102)"/><rect x="260.0" y="250.1" width="0.7" height="0.7" fill="rgb(148,148,148)"/><rect x="273.7" y="250.4" width="0.7" height="0.7" fill="rgb(133,133,133)"/><rect x="268.1" y="276.4" width="0.7" height="0.7" fill="rgb(100,100,100)"/><rect x="295.4" y="265.5" width="0.7" height="0.7" fill="rgb(172,172,172)"/><rect x="279.5" y="278.8" width="0.7" height="0.7" fill="rgb(119,119,119)"/><rect x="259.7" y="233.2" width="0.7" height="0.7" fill="rgb(151,151,151)"/><rect x="271.4" y="282.4" width="0.7" height="0.7" fill="rgb(142,142,142)"/><rect x="272.9" y="258.2" width="0.7" height="0.7" fill="rgb(109,109,109)"/><rect x="269.6" y="270.4" width="0.7" height="0.7" fill="rgb(122,122,122)"/><rect x="296.7" y="270.4" width="0.7" height="0.7" fill="rgb(91,91,91)"/><rect x="263.2" y="238.4" width="0.7" height="0.7" fill="rgb(112,112,112)"/><rect x="263.1" y="233.0" width="0.7" height="0.7" fill="rgb(169,169,169)"/><rect x="261.3" y="283.2" width="0.7" height="0.7" fill="rgb(183,183,183)"/><rect x="277.3" y="254.0" width="0.7" height="0.7" fill="rgb(167,167,167)"/><rect x="269.4" y="259.0" width="0.7" height="0.7" fill="rgb(171,171,171)"/><rect x="261.9" y="251.6" width="0.7" height="0.7" fill="rgb(180,180,180)"/><rect x="261.5" y="260.6" width="0.7" height="0.7" fill="rgb(96,96,96)"/><rect x="258.3" y="237.3" width="0.7" height="0.7" fill="rgb(190,190,190)"/><rect x="266.0" y="256.3" width="0.7" height="0.7" fill="rgb(195,195,195)"/><rect x="261.5" y="278.4" width="0.7" height="0.7" fill="rgb(130,130,130)"/><rect x="277.7" y="270.4" width="0.7" height="0.7" fill="rgb(115,115,115)"/><rect x="271.7" y="244.7" width="0.7" height="0.7" fill="rgb(98,98,98)"/><rect x="267.5" y="265.6" width="0.7" height="0.7" fill="rgb(114,114,114)"/><rect x="270.4" y="268.5" width="0.7" height="0.7" fill="rgb(129,129,129)"/><rect x="260.5" y="226.5" width="0.7" height="0.7" fill="rgb(92,92,92)"/><rect x="277.2" y="265.9" width="0.7" height="0.7" fill="rgb(149,149,149)"/><rect x="276.7" y="269.8" width="0.7" height="0.7" fill="rgb(168,168,168)"/><rect x="286.7" y="274.2" width="0.7" height="0.7" fill="rgb(144,144,144)"/><rect x="263.3" y="271.0" width="0.7" height="0.7" fill="rgb(125,125,125)"/><rect x="273.2" y="271.3" width="0.7" height="0.7" fill="rgb(155,155,155)"/><rect x="260.2" y="252.5" width="0.7" height="0.7" fill="rgb(198,198,198)"/><rect x="267.8" y="279.0" width="0.7" height="0.7" fill="rgb(199,199,199)"/><rect x="279.1" y="260.4" width="0.7" height="0.7" fill="rgb(180,180,180)"/><rect x="272.4" y="283.1" width="0.7" height="0.7" fill="rgb(91,91,91)"/><rect x="264.7" y="240.7" width="0.7" height="0.7" fill="rgb(114,114,114)"/><rect x="297.4" y="267.1" width="0.7" height="0.7" fill="rgb(96,96,96)"/><rect x="264.7" y="272.2" width="0.7" height="0.7" fill="rgb(129,129,129)"/><rect x="261.7" y="249.1" width="0.7" height="0.7" fill="rgb(186,186,186)"/><rect x="262.8" y="269.6" width="0.7" height="0.7" fill="rgb(189,189,189)"/><rect x="261.7" y="254.3" width="0.7" height="0.7" fill="rgb(103,103,103)"/><rect x="273.2" y="251.0" width="0.7" height="0.7" fill="rgb(149,149,149)"/><rect x="258.5" y="236.8" width="0.7" height="0.7" fill="rgb(115,115,115)"/><rect x="261.6" y="234.9" width="0.7" height="0.7" fill="rgb(170,170,170)"/><rect x="264.8" y="242.9" width="0.7" height="0.7" fill="rgb(164,164,164)"/><rect x="267.6" y="250.1" width="0.7" height="0.7" fill="rgb(106,106,106)"/><rect x="270.6" y="250.9" width="0.7" height="0.7" fill="rgb(129,129,129)"/><rect x="275.9" y="272.1" width="0.7" height="0.7" fill="rgb(150,150,150)"/><rect x="281.2" y="259.8" width="0.7" height="0.7" fill="rgb(92,92,92)"/><rect x="263.5" y="251.4" width="0.7" height="0.7" fill="rgb(146,146,146)"/><rect x="272.2" y="275.9" width="0.7" height="0.7" fill="rgb(165,165,165)"/><rect x="310.5" y="234.4" width="0.7" height="0.7" fill="rgb(142,142,142)"/><rect x="277.3" y="275.2" width="0.7" height="0.7" fill="rgb(143,143,143)"/><rect x="259.6" y="278.5" width="0.7" height="0.7" fill="rgb(90,90,90)"/><rect x="279.9" y="268.3" width="0.7" height="0.7" fill="rgb(118,118,118)"/><rect x="261.7" y="280.8" width="0.7" height="0.7" fill="rgb(169,169,169)"/><rect x="265.3" y="232.9" width="0.7" height="0.7" fill="rgb(125,125,125)"/><rect x="275.7" y="268.4" width="0.7" height="0.7" fill="rgb(116,116,116)"/><rect x="269.6" y="282.1" width="0.7" height="0.7" fill="rgb(185,185,185)"/><rect x="267.4" y="242.0" width="0.7" height="0.7" fill="rgb(193,193,193)"/><rect x="263.2" y="238.6" width="0.7" height="0.7" fill="rgb(152,152,152)"/><rect x="310.2" y="249.6" width="0.7" height="0.7" fill="rgb(123,123,123)"/><rect x="259.6" y="250.3" width="0.7" height="0.7" fill="rgb(166,166,166)"/><rect x="273.4" y="280.1" width="0.7" height="0.7" fill="rgb(139,139,139)"/><rect x="259.4" y="246.2" width="0.7" height="0.7" fill="rgb(150,150,150)"/><rect x="275.0" y="258.5" width="0.7" height="0.7" fill="rgb(148,148,148)"/><rect x="263.8" y="263.8" width="0.7" height="0.7" fill="rgb(150,150,150)"/><rect x="277.8" y="257.4" width="0.7" height="0.7" fill="rgb(100,100,100)"/><rect x="270.5" y="243.8" width="0.7" height="0.7" fill="rgb(109,109,109)"/><rect x="282.5" y="264.2" width="0.7" height="0.7" fill="rgb(147,147,147)"/><rect x="273.6" y="247.7" width="0.7" height="0.7" fill="rgb(180,180,180)"/><rect x="275.0" y="265.2" width="0.7" height="0.7" fill="rgb(154,154,154)"/><rect x="275.9" y="253.4" width="0.7" height="0.7" fill="rgb(172,172,172)"/><rect x="261.4" y="279.4" width="0.7" height="0.7" fill="rgb(188,188,188)"/><rect x="267.1" y="265.9" width="0.7" height="0.7" fill="rgb(105,105,105)"/><rect x="269.9" y="241.9" width="0.7" height="0.7" fill="rgb(131,131,131)"/><rect x="263.6" y="264.3" width="0.7" height="0.7" fill="rgb(121,121,121)"/><rect x="263.2" y="247.2" width="0.7" height="0.7" fill="rgb(142,142,142)"/><rect x="279.9" y="274.2" width="0.7" height="0.7" fill="rgb(186,186,186)"/><rect x="273.7" y="251.9" width="0.7" height="0.7" fill="rgb(187,187,187)"/><rect x="281.0" y="257.7" width="0.7" height="0.7" fill="rgb(136,136,136)"/><rect x="264.1" y="243.7" width="0.7" height="0.7" fill="rgb(197,197,197)"/><rect x="274.7" y="253.4" width="0.7" height="0.7" fill="rgb(115,115,115)"/><rect x="275.4" y="279.6" width="0.7" height="0.7" fill="rgb(108,108,108)"/><rect x="268.3" y="268.2" width="0.7" height="0.7" fill="rgb(186,186,186)"/><rect x="279.4" y="262.4" width="0.7" height="0.7" fill="rgb(155,155,155)"/><rect x="282.8" y="283.7" width="0.7" height="0.7" fill="rgb(181,181,181)"/><rect x="266.9" y="246.2" width="0.7" height="0.7" fill="rgb(164,164,164)"/><rect x="282.0" y="269.4" width="0.7" height="0.7" fill="rgb(170,170,170)"/><rect x="259.8" y="253.2" width="0.7" height="0.7" fill="rgb(199,199,199)"/><rect x="278.2" y="258.9" width="0.7" height="0.7" fill="rgb(183,183,183)"/><rect x="260.0" y="280.1" width="0.7" height="0.7" fill="rgb(95,95,95)"/><rect x="273.9" y="251.5" width="0.7" height="0.7" fill="rgb(200,200,200)"/><rect x="282.1" y="281.5" width="0.7" height="0.7" fill="rgb(143,143,143)"/><rect x="268.9" y="255.0" width="0.7" height="0.7" fill="rgb(101,101,101)"/><rect x="261.8" y="268.2" width="0.7" height="0.7" fill="rgb(193,193,193)"/><rect x="266.9" y="283.6" width="0.7" height="0.7" fill="rgb(164,164,164)"/><rect x="275.2" y="266.3" width="0.7" height="0.7" fill="rgb(167,167,167)"/><rect x="270.6" y="243.5" width="0.7" height="0.7" fill="rgb(187,187,187)"/><rect x="267.2" y="245.6" width="0.7" height="0.7" fill="rgb(195,195,195)"/><rect x="262.3" y="239.1" width="0.7" height="0.7" fill="rgb(195,195,195)"/><rect x="274.1" y="260.7" width="0.7" height="0.7" fill="rgb(189,189,189)"/><rect x="260.8" y="260.8" width="0.7" height="0.7" fill="rgb(113,113,113)"/><rect x="267.8" y="246.0" width="0.7" height="0.7" fill="rgb(173,173,173)"/><rect x="267.3" y="263.7" width="0.7" height="0.7" fill="rgb(107,107,107)"/><rect x="277.2" y="276.4" width="0.7" height="0.7" fill="rgb(102,102,102)"/><rect x="262.7" y="258.2" width="0.7" height="0.7" fill="rgb(123,123,123)"/><rect x="263.9" y="281.5" width="0.7" height="0.7" fill="rgb(171,171,171)"/><rect x="278.5" y="259.9" width="0.7" height="0.7" fill="rgb(198,198,198)"/><rect x="271.0" y="254.0" width="0.7" height="0.7" fill="rgb(117,117,117)"/><rect x="263.8" y="279.9" width="0.7" height="0.7" fill="rgb(179,179,179)"/><rect x="259.9" y="275.3" width="0.7" height="0.7" fill="rgb(97,97,97)"/><rect x="276.5" y="252.4" width="0.7" height="0.7" fill="rgb(141,141,141)"/><rect x="271.4" y="274.6" width="0.7" height="0.7" fill="rgb(99,99,99)"/><rect x="258.4" y="227.4" width="0.7" height="0.7" fill="rgb(145,145,145)"/><rect x="265.6" y="269.7" width="0.7" height="0.7" fill="rgb(131,131,131)"/><rect x="258.5" y="238.4" width="0.7" height="0.7" fill="rgb(198,198,198)"/><rect x="310.4" y="273.4" width="0.7" height="0.7" fill="rgb(143,143,143)"/><rect x="280.9" y="276.2" width="0.7" height="0.7" fill="rgb(175,175,175)"/><rect x="281.8" y="258.0" width="0.7" height="0.7" fill="rgb(102,102,102)"/><rect x="275.5" y="277.8" width="0.7" height="0.7" fill="rgb(146,146,146)"/><rect x="264.1" y="272.2" width="0.7" height="0.7" fill="rgb(107,107,107)"/><rect x="275.5" y="253.2" width="0.7" height="0.7" fill="rgb(111,111,111)"/><rect x="271.7" y="252.9" width="0.7" height="0.7" fill="rgb(185,185,185)"/><rect x="261.2" y="276.9" width="0.7" height="0.7" fill="rgb(120,120,120)"/><rect x="313.3" y="231.3" width="0.7" height="0.7" fill="rgb(116,116,116)"/><rect x="278.8" y="267.3" width="0.7" height="0.7" fill="rgb(156,156,156)"/><rect x="268.4" y="258.5" width="0.7" height="0.7" fill="rgb(104,104,104)"/><rect x="263.7" y="243.8" width="0.7" height="0.7" fill="rgb(167,167,167)"/><rect x="264.1" y="234.0" width="0.7" height="0.7" fill="rgb(184,184,184)"/><rect x="268.8" y="259.0" width="0.7" height="0.7" fill="rgb(150,150,150)"/><rect x="259.8" y="277.6" width="0.7" height="0.7" fill="rgb(168,168,168)"/><rect x="264.4" y="258.6" width="0.7" height="0.7" fill="rgb(132,132,132)"/><rect x="266.6" y="256.4" width="0.7" height="0.7" fill="rgb(128,128,128)"/><rect x="282.6" y="267.2" width="0.7" height="0.7" fill="rgb(110,110,110)"/><rect x="261.4" y="227.5" width="0.7" height="0.7" fill="rgb(97,97,97)"/><rect x="310.0" y="243.2" width="0.7" height="0.7" fill="rgb(189,189,189)"/><rect x="287.2" y="284.6" width="0.7" height="0.7" fill="rgb(163,163,163)"/><rect x="275.1" y="284.4" width="0.7" height="0.7" fill="rgb(97,97,97)"/><rect x="270.2" y="255.7" width="0.7" height="0.7" fill="rgb(141,141,141)"/><rect x="266.2" y="277.7" width="0.7" height="0.7" fill="rgb(173,173,173)"/><rect x="270.7" y="256.2" width="0.7" height="0.7" fill="rgb(175,175,175)"/><rect x="275.4" y="252.8" width="0.7" height="0.7" fill="rgb(168,168,168)"/><rect x="268.9" y="263.9" width="0.7" height="0.7" fill="rgb(197,197,197)"/><rect x="266.7" y="256.9" width="0.7" height="0.7" fill="rgb(105,105,105)"/><rect x="267.3" y="270.6" width="0.7" height="0.7" fill="rgb(109,109,109)"/>
<path d="M257.8,254.5 L264,253.8 L270,254.2 L276,255.3 L279.5,257.5 L280.2,260 L278.5,266 L277,272 L275.8,279 L275.2,285.2 L257.8,285.2 Z" fill="#222" opacity="0.75" filter="url(#bl1)"/>
<path d="M257.8,255.2 L264,254.6 L270,255 L275,256.2 L278,258.2 L278.5,260.5 L277,266 L275.5,272 L274,279 L273.2,285.2 L257.8,285.2 Z" fill="#0c0c0c"/>
<rect x="268.7" y="261.4" width="0.7" height="0.7" fill="rgb(52,52,52)"/><rect x="261.0" y="280.8" width="0.7" height="0.7" fill="rgb(86,86,86)"/><rect x="267.8" y="267.0" width="0.7" height="0.7" fill="rgb(60,60,60)"/><rect x="262.6" y="284.0" width="0.7" height="0.7" fill="rgb(57,57,57)"/><rect x="268.2" y="255.9" width="0.7" height="0.7" fill="rgb(100,100,100)"/><rect x="267.5" y="280.8" width="0.7" height="0.7" fill="rgb(52,52,52)"/><rect x="262.5" y="283.4" width="0.7" height="0.7" fill="rgb(55,55,55)"/><rect x="262.5" y="267.5" width="0.7" height="0.7" fill="rgb(54,54,54)"/><rect x="269.3" y="269.2" width="0.7" height="0.7" fill="rgb(52,52,52)"/><rect x="271.5" y="260.6" width="0.7" height="0.7" fill="rgb(94,94,94)"/><rect x="267.4" y="257.9" width="0.7" height="0.7" fill="rgb(77,77,77)"/><rect x="276.1" y="264.2" width="0.7" height="0.7" fill="rgb(93,93,93)"/><rect x="259.3" y="266.4" width="0.7" height="0.7" fill="rgb(82,82,82)"/><rect x="273.8" y="278.0" width="0.7" height="0.7" fill="rgb(88,88,88)"/><rect x="262.9" y="270.1" width="0.7" height="0.7" fill="rgb(53,53,53)"/><rect x="264.8" y="279.7" width="0.7" height="0.7" fill="rgb(93,93,93)"/><rect x="267.5" y="273.8" width="0.7" height="0.7" fill="rgb(87,87,87)"/><rect x="266.9" y="267.2" width="0.7" height="0.7" fill="rgb(100,100,100)"/><rect x="266.5" y="280.2" width="0.7" height="0.7" fill="rgb(89,89,89)"/><rect x="274.7" y="256.4" width="0.7" height="0.7" fill="rgb(50,50,50)"/><rect x="263.0" y="273.4" width="0.7" height="0.7" fill="rgb(83,83,83)"/><rect x="274.1" y="258.1" width="0.7" height="0.7" fill="rgb(87,87,87)"/><rect x="262.7" y="259.5" width="0.7" height="0.7" fill="rgb(98,98,98)"/><rect x="272.6" y="282.8" width="0.7" height="0.7" fill="rgb(100,100,100)"/><rect x="269.5" y="271.8" width="0.7" height="0.7" fill="rgb(96,96,96)"/><rect x="267.9" y="271.4" width="0.7" height="0.7" fill="rgb(79,79,79)"/><rect x="262.0" y="260.9" width="0.7" height="0.7" fill="rgb(95,95,95)"/><rect x="260.6" y="275.9" width="0.7" height="0.7" fill="rgb(90,90,90)"/><rect x="272.6" y="271.5" width="0.7" height="0.7" fill="rgb(72,72,72)"/><rect x="265.4" y="273.5" width="0.7" height="0.7" fill="rgb(83,83,83)"/><rect x="268.5" y="281.5" width="0.7" height="0.7" fill="rgb(88,88,88)"/><rect x="261.9" y="277.6" width="0.7" height="0.7" fill="rgb(62,62,62)"/><rect x="267.4" y="280.8" width="0.7" height="0.7" fill="rgb(61,61,61)"/><rect x="262.3" y="273.5" width="0.7" height="0.7" fill="rgb(96,96,96)"/><rect x="263.0" y="267.7" width="0.7" height="0.7" fill="rgb(81,81,81)"/><rect x="265.8" y="267.9" width="0.7" height="0.7" fill="rgb(64,64,64)"/><rect x="274.7" y="268.3" width="0.7" height="0.7" fill="rgb(80,80,80)"/><rect x="265.2" y="275.0" width="0.7" height="0.7" fill="rgb(81,81,81)"/><rect x="272.8" y="261.8" width="0.7" height="0.7" fill="rgb(72,72,72)"/><rect x="263.8" y="271.6" width="0.7" height="0.7" fill="rgb(60,60,60)"/><rect x="262.3" y="257.4" width="0.7" height="0.7" fill="rgb(63,63,63)"/><rect x="265.1" y="282.8" width="0.7" height="0.7" fill="rgb(55,55,55)"/><rect x="268.1" y="256.7" width="0.7" height="0.7" fill="rgb(67,67,67)"/><rect x="275.5" y="265.1" width="0.7" height="0.7" fill="rgb(92,92,92)"/><rect x="264.2" y="282.2" width="0.7" height="0.7" fill="rgb(78,78,78)"/><rect x="268.8" y="280.1" width="0.7" height="0.7" fill="rgb(57,57,57)"/><rect x="260.6" y="270.8" width="0.7" height="0.7" fill="rgb(91,91,91)"/><rect x="269.6" y="279.2" width="0.7" height="0.7" fill="rgb(78,78,78)"/><rect x="264.2" y="277.5" width="0.7" height="0.7" fill="rgb(89,89,89)"/><rect x="261.9" y="278.4" width="0.7" height="0.7" fill="rgb(83,83,83)"/><rect x="261.9" y="261.0" width="0.7" height="0.7" fill="rgb(95,95,95)"/><rect x="272.3" y="259.9" width="0.7" height="0.7" fill="rgb(83,83,83)"/><rect x="266.2" y="263.8" width="0.7" height="0.7" fill="rgb(79,79,79)"/><rect x="272.6" y="270.6" width="0.7" height="0.7" fill="rgb(97,97,97)"/><rect x="258.9" y="271.1" width="0.7" height="0.7" fill="rgb(54,54,54)"/><rect x="269.9" y="266.6" width="0.7" height="0.7" fill="rgb(80,80,80)"/><rect x="259.9" y="276.4" width="0.7" height="0.7" fill="rgb(59,59,59)"/><rect x="261.6" y="280.2" width="0.7" height="0.7" fill="rgb(60,60,60)"/><rect x="258.7" y="277.0" width="0.7" height="0.7" fill="rgb(96,96,96)"/><rect x="276.7" y="266.3" width="0.7" height="0.7" fill="rgb(85,85,85)"/><rect x="259.2" y="283.7" width="0.7" height="0.7" fill="rgb(62,62,62)"/><rect x="259.9" y="276.1" width="0.7" height="0.7" fill="rgb(53,53,53)"/><rect x="261.5" y="277.7" width="0.7" height="0.7" fill="rgb(50,50,50)"/><rect x="271.4" y="261.8" width="0.7" height="0.7" fill="rgb(70,70,70)"/><rect x="260.1" y="269.4" width="0.7" height="0.7" fill="rgb(72,72,72)"/><rect x="266.7" y="258.8" width="0.7" height="0.7" fill="rgb(99,99,99)"/><rect x="261.7" y="282.6" width="0.7" height="0.7" fill="rgb(65,65,65)"/><rect x="269.0" y="271.0" width="0.7" height="0.7" fill="rgb(60,60,60)"/><rect x="262.5" y="259.1" width="0.7" height="0.7" fill="rgb(96,96,96)"/><rect x="262.1" y="273.6" width="0.7" height="0.7" fill="rgb(70,70,70)"/><rect x="259.8" y="266.4" width="0.7" height="0.7" fill="rgb(73,73,73)"/><rect x="260.1" y="280.5" width="0.7" height="0.7" fill="rgb(82,82,82)"/><rect x="265.0" y="284.6" width="0.7" height="0.7" fill="rgb(94,94,94)"/><rect x="276.2" y="263.2" width="0.7" height="0.7" fill="rgb(64,64,64)"/><rect x="264.1" y="277.7" width="0.7" height="0.7" fill="rgb(51,51,51)"/><rect x="261.3" y="279.5" width="0.7" height="0.7" fill="rgb(67,67,67)"/><rect x="271.7" y="265.2" width="0.7" height="0.7" fill="rgb(80,80,80)"/><rect x="268.0" y="272.0" width="0.7" height="0.7" fill="rgb(99,99,99)"/><rect x="259.8" y="270.6" width="0.7" height="0.7" fill="rgb(66,66,66)"/><rect x="267.5" y="260.3" width="0.7" height="0.7" fill="rgb(79,79,79)"/><rect x="275.1" y="266.2" width="0.7" height="0.7" fill="rgb(50,50,50)"/><rect x="272.1" y="263.4" width="0.7" height="0.7" fill="rgb(85,85,85)"/><rect x="272.4" y="284.1" width="0.7" height="0.7" fill="rgb(96,96,96)"/><rect x="270.2" y="258.8" width="0.7" height="0.7" fill="rgb(83,83,83)"/><rect x="276.3" y="269.4" width="0.7" height="0.7" fill="rgb(98,98,98)"/><rect x="263.9" y="282.3" width="0.7" height="0.7" fill="rgb(89,89,89)"/><rect x="266.7" y="260.5" width="0.7" height="0.7" fill="rgb(81,81,81)"/><rect x="274.9" y="264.5" width="0.7" height="0.7" fill="rgb(95,95,95)"/><rect x="260.6" y="267.3" width="0.7" height="0.7" fill="rgb(51,51,51)"/><rect x="259.8" y="280.2" width="0.7" height="0.7" fill="rgb(65,65,65)"/><rect x="259.1" y="271.4" width="0.7" height="0.7" fill="rgb(62,62,62)"/><rect x="267.1" y="282.1" width="0.7" height="0.7" fill="rgb(70,70,70)"/><rect x="269.1" y="277.2" width="0.7" height="0.7" fill="rgb(92,92,92)"/><rect x="268.1" y="271.4" width="0.7" height="0.7" fill="rgb(66,66,66)"/><rect x="267.7" y="260.2" width="0.7" height="0.7" fill="rgb(71,71,71)"/><rect x="271.4" y="275.8" width="0.7" height="0.7" fill="rgb(82,82,82)"/><rect x="270.3" y="260.8" width="0.7" height="0.7" fill="rgb(83,83,83)"/><rect x="258.6" y="268.6" width="0.7" height="0.7" fill="rgb(77,77,77)"/><rect x="262.3" y="269.3" width="0.7" height="0.7" fill="rgb(54,54,54)"/><rect x="263.8" y="268.9" width="0.7" height="0.7" fill="rgb(59,59,59)"/><rect x="259.1" y="279.1" width="0.7" height="0.7" fill="rgb(76,76,76)"/><rect x="274.6" y="263.1" width="0.7" height="0.7" fill="rgb(77,77,77)"/><rect x="265.4" y="268.8" width="0.7" height="0.7" fill="rgb(84,84,84)"/><rect x="264.9" y="255.8" width="0.7" height="0.7" fill="rgb(55,55,55)"/>
<rect x="279.9" y="241.4" width="21.6" height="12.0" fill="none" stroke="#888" stroke-width="0.8"/>
<line x1="291.0" y1="241.4" x2="291.0" y2="253.4" stroke="#aaa" stroke-width="0.8"/>
<defs><filter id="bl3" x="-50%" y="-50%" width="200%" height="200%"><feGaussianBlur stdDeviation="0.5"/></filter></defs>
<g filter="url(#bl3)"><ellipse cx="285.8" cy="247.3" rx="3.6" ry="3.1" fill="#666"/><ellipse cx="286.3" cy="246.9" rx="2.0" ry="1.8" fill="#111"/><ellipse cx="284.0" cy="248.4" rx="1.4" ry="1.6" fill="#222"/><ellipse cx="296.1" cy="247.0" rx="2.9" ry="2.8" fill="#6a6a6a"/><ellipse cx="296.6" cy="246.5" rx="1.6" ry="1.5" fill="#1c1c1c"/></g>
<text x="279.2" y="237.8" font-size="12" text-anchor="start" fill="#111" textLength="26.6" lengthAdjust="spacingAndGlyphs" >P1P2</text>
<path d="M307.0,215.3 H361.6 V213.8 L370.2,217.5 L361.6,221.4 V219.7 H307.0 Z" fill="#000"/>
<line x1="347.8" y1="259.3" x2="347.8" y2="203.6" stroke="#000" stroke-width="2.0"/>
<path d="M343.9,209.0 L347.8,203.0 L351.6,209.0" fill="none" stroke="#000" stroke-width="1.9"/>
<text transform="translate(351.4,282.6) rotate(-90)" x="0" y="0" font-size="12.5" text-anchor="middle" fill="#111" stroke="#111" stroke-width="0.15" textLength="33.0" lengthAdjust="spacingAndGlyphs">Counts</text>
<text x="249.0" y="314.9" font-size="15" text-anchor="start" fill="#111" textLength="37.0" lengthAdjust="spacingAndGlyphs" >FITC</text>
<line x1="288.5" y1="311.0" x2="606.0" y2="311.0" stroke="#000" stroke-width="1.8"/>
<path d="M600.2,307.3 L607.0,311.0 L600.2,314.4" fill="none" stroke="#000" stroke-width="1.8"/>
<line x1="369.3" y1="222.3" x2="369.3" y2="283.9" stroke="#333" stroke-width="1.0"/>
<line x1="368.8" y1="283.4" x2="439.4" y2="283.4" stroke="#333" stroke-width="1.0"/>
<line x1="366.9" y1="283.4" x2="369.3" y2="283.4" stroke="#666" stroke-width="0.6"/>
<line x1="367.8" y1="280.9" x2="369.3" y2="280.9" stroke="#666" stroke-width="0.6"/>
<line x1="367.8" y1="278.5" x2="369.3" y2="278.5" stroke="#666" stroke-width="0.6"/>
<line x1="367.8" y1="276.1" x2="369.3" y2="276.1" stroke="#666" stroke-width="0.6"/>
<line x1="367.8" y1="273.6" x2="369.3" y2="273.6" stroke="#666" stroke-width="0.6"/>
<line x1="366.9" y1="271.2" x2="369.3" y2="271.2" stroke="#666" stroke-width="0.6"/>
<line x1="367.8" y1="268.7" x2="369.3" y2="268.7" stroke="#666" stroke-width="0.6"/>
<line x1="367.8" y1="266.3" x2="369.3" y2="266.3" stroke="#666" stroke-width="0.6"/>
<line x1="367.8" y1="263.8" x2="369.3" y2="263.8" stroke="#666" stroke-width="0.6"/>
<line x1="367.8" y1="261.4" x2="369.3" y2="261.4" stroke="#666" stroke-width="0.6"/>
<line x1="366.9" y1="258.9" x2="369.3" y2="258.9" stroke="#666" stroke-width="0.6"/>
<line x1="367.8" y1="256.5" x2="369.3" y2="256.5" stroke="#666" stroke-width="0.6"/>
<line x1="367.8" y1="254.0" x2="369.3" y2="254.0" stroke="#666" stroke-width="0.6"/>
<line x1="367.8" y1="251.6" x2="369.3" y2="251.6" stroke="#666" stroke-width="0.6"/>
<line x1="367.8" y1="249.1" x2="369.3" y2="249.1" stroke="#666" stroke-width="0.6"/>
<line x1="366.9" y1="246.7" x2="369.3" y2="246.7" stroke="#666" stroke-width="0.6"/>
<line x1="367.8" y1="244.2" x2="369.3" y2="244.2" stroke="#666" stroke-width="0.6"/>
<line x1="367.8" y1="241.8" x2="369.3" y2="241.8" stroke="#666" stroke-width="0.6"/>
<line x1="367.8" y1="239.3" x2="369.3" y2="239.3" stroke="#666" stroke-width="0.6"/>
<line x1="367.8" y1="236.9" x2="369.3" y2="236.9" stroke="#666" stroke-width="0.6"/>
<line x1="366.9" y1="234.4" x2="369.3" y2="234.4" stroke="#666" stroke-width="0.6"/>
<line x1="367.8" y1="232.0" x2="369.3" y2="232.0" stroke="#666" stroke-width="0.6"/>
<line x1="367.8" y1="229.5" x2="369.3" y2="229.5" stroke="#666" stroke-width="0.6"/>
<line x1="367.8" y1="227.1" x2="369.3" y2="227.1" stroke="#666" stroke-width="0.6"/>
<line x1="367.8" y1="224.6" x2="369.3" y2="224.6" stroke="#666" stroke-width="0.6"/>
<text transform="translate(366.7,272.2) rotate(-90)" font-size="4" fill="#777" text-anchor="middle">6</text>
<text transform="translate(366.7,260.0) rotate(-90)" font-size="4" fill="#777" text-anchor="middle">12</text>
<text transform="translate(366.7,247.8) rotate(-90)" font-size="4" fill="#777" text-anchor="middle">18</text>
<text transform="translate(366.7,235.6) rotate(-90)" font-size="4" fill="#777" text-anchor="middle">24</text>
<line x1="369.3" y1="283.4" x2="369.3" y2="285.8" stroke="#666" stroke-width="0.6"/>
<line x1="371.2" y1="283.4" x2="371.2" y2="284.7" stroke="#666" stroke-width="0.6"/>
<line x1="373.2" y1="283.4" x2="373.2" y2="284.7" stroke="#666" stroke-width="0.6"/>
<line x1="375.1" y1="283.4" x2="375.1" y2="284.7" stroke="#666" stroke-width="0.6"/>
<line x1="377.1" y1="283.4" x2="377.1" y2="284.7" stroke="#666" stroke-width="0.6"/>
<line x1="379.0" y1="283.4" x2="379.0" y2="284.7" stroke="#666" stroke-width="0.6"/>
<line x1="381.0" y1="283.4" x2="381.0" y2="284.7" stroke="#666" stroke-width="0.6"/>
<line x1="382.9" y1="283.4" x2="382.9" y2="284.7" stroke="#666" stroke-width="0.6"/>
<line x1="384.9" y1="283.4" x2="384.9" y2="284.7" stroke="#666" stroke-width="0.6"/>
<line x1="386.8" y1="283.4" x2="386.8" y2="285.8" stroke="#666" stroke-width="0.6"/>
<line x1="388.8" y1="283.4" x2="388.8" y2="284.7" stroke="#666" stroke-width="0.6"/>
<line x1="390.7" y1="283.4" x2="390.7" y2="284.7" stroke="#666" stroke-width="0.6"/>
<line x1="392.7" y1="283.4" x2="392.7" y2="284.7" stroke="#666" stroke-width="0.6"/>
<line x1="394.6" y1="283.4" x2="394.6" y2="284.7" stroke="#666" stroke-width="0.6"/>
<line x1="396.6" y1="283.4" x2="396.6" y2="284.7" stroke="#666" stroke-width="0.6"/>
<line x1="398.5" y1="283.4" x2="398.5" y2="284.7" stroke="#666" stroke-width="0.6"/>
<line x1="400.5" y1="283.4" x2="400.5" y2="284.7" stroke="#666" stroke-width="0.6"/>
<line x1="402.4" y1="283.4" x2="402.4" y2="284.7" stroke="#666" stroke-width="0.6"/>
<line x1="404.4" y1="283.4" x2="404.4" y2="285.8" stroke="#666" stroke-width="0.6"/>
<line x1="406.3" y1="283.4" x2="406.3" y2="284.7" stroke="#666" stroke-width="0.6"/>
<line x1="408.3" y1="283.4" x2="408.3" y2="284.7" stroke="#666" stroke-width="0.6"/>
<line x1="410.2" y1="283.4" x2="410.2" y2="284.7" stroke="#666" stroke-width="0.6"/>
<line x1="412.2" y1="283.4" x2="412.2" y2="284.7" stroke="#666" stroke-width="0.6"/>
<line x1="414.1" y1="283.4" x2="414.1" y2="284.7" stroke="#666" stroke-width="0.6"/>
<line x1="416.1" y1="283.4" x2="416.1" y2="284.7" stroke="#666" stroke-width="0.6"/>
<line x1="418.0" y1="283.4" x2="418.0" y2="284.7" stroke="#666" stroke-width="0.6"/>
<line x1="420.0" y1="283.4" x2="420.0" y2="284.7" stroke="#666" stroke-width="0.6"/>
<line x1="421.9" y1="283.4" x2="421.9" y2="285.8" stroke="#666" stroke-width="0.6"/>
<line x1="423.9" y1="283.4" x2="423.9" y2="284.7" stroke="#666" stroke-width="0.6"/>
<line x1="425.8" y1="283.4" x2="425.8" y2="284.7" stroke="#666" stroke-width="0.6"/>
<line x1="427.8" y1="283.4" x2="427.8" y2="284.7" stroke="#666" stroke-width="0.6"/>
<line x1="429.7" y1="283.4" x2="429.7" y2="284.7" stroke="#666" stroke-width="0.6"/>
<line x1="431.7" y1="283.4" x2="431.7" y2="284.7" stroke="#666" stroke-width="0.6"/>
<line x1="433.6" y1="283.4" x2="433.6" y2="284.7" stroke="#666" stroke-width="0.6"/>
<line x1="435.6" y1="283.4" x2="435.6" y2="284.7" stroke="#666" stroke-width="0.6"/>
<line x1="437.5" y1="283.4" x2="437.5" y2="284.7" stroke="#666" stroke-width="0.6"/>
<text x="379.9" y="290.9" font-size="4" text-anchor="middle" fill="#777" >10</text>
<text x="397.4" y="290.9" font-size="4" text-anchor="middle" fill="#777" >10</text>
<text x="414.9" y="290.9" font-size="4" text-anchor="middle" fill="#777" >10</text>
<text x="432.4" y="290.9" font-size="4" text-anchor="middle" fill="#777" >10</text>
<path d="M391.3,283.4 L393,274 L394.8,260 L396.3,246 L397.3,239 L397.8,237 L398.4,239 L398.9,237.5 L399.6,245 L400.8,258 L402.2,272 L403.4,281.5 L404.6,272 L406,258 L407.5,246 L408.5,240.5 L409.1,239.0 L409.9,245 L410.9,258 L411.9,272 L412.9,283.4 Z" fill="#7a7a7a" stroke="#1a1a1a" stroke-width="0.7" stroke-linejoin="round"/>
<line x1="455.9" y1="222.5" x2="455.9" y2="283.5" stroke="#333" stroke-width="1.0"/>
<line x1="455.4" y1="283.0" x2="524.8" y2="283.0" stroke="#333" stroke-width="1.0"/>
<line x1="453.5" y1="283.0" x2="455.9" y2="283.0" stroke="#666" stroke-width="0.6"/>
<line x1="454.4" y1="280.6" x2="455.9" y2="280.6" stroke="#666" stroke-width="0.6"/>
<line x1="454.4" y1="278.1" x2="455.9" y2="278.1" stroke="#666" stroke-width="0.6"/>
<line x1="454.4" y1="275.7" x2="455.9" y2="275.7" stroke="#666" stroke-width="0.6"/>
<line x1="454.4" y1="273.2" x2="455.9" y2="273.2" stroke="#666" stroke-width="0.6"/>
<line x1="453.5" y1="270.8" x2="455.9" y2="270.8" stroke="#666" stroke-width="0.6"/>
<line x1="454.4" y1="268.3" x2="455.9" y2="268.3" stroke="#666" stroke-width="0.6"/>
<line x1="454.4" y1="265.9" x2="455.9" y2="265.9" stroke="#666" stroke-width="0.6"/>
<line x1="454.4" y1="263.4" x2="455.9" y2="263.4" stroke="#666" stroke-width="0.6"/>
<line x1="454.4" y1="261.0" x2="455.9" y2="261.0" stroke="#666" stroke-width="0.6"/>
<line x1="453.5" y1="258.5" x2="455.9" y2="258.5" stroke="#666" stroke-width="0.6"/>
<line x1="454.4" y1="256.1" x2="455.9" y2="256.1" stroke="#666" stroke-width="0.6"/>
<line x1="454.4" y1="253.6" x2="455.9" y2="253.6" stroke="#666" stroke-width="0.6"/>
<line x1="454.4" y1="251.2" x2="455.9" y2="251.2" stroke="#666" stroke-width="0.6"/>
<line x1="454.4" y1="248.7" x2="455.9" y2="248.7" stroke="#666" stroke-width="0.6"/>
<line x1="453.5" y1="246.3" x2="455.9" y2="246.3" stroke="#666" stroke-width="0.6"/>
<line x1="454.4" y1="243.8" x2="455.9" y2="243.8" stroke="#666" stroke-width="0.6"/>
<line x1="454.4" y1="241.4" x2="455.9" y2="241.4" stroke="#666" stroke-width="0.6"/>
<line x1="454.4" y1="238.9" x2="455.9" y2="238.9" stroke="#666" stroke-width="0.6"/>
<line x1="454.4" y1="236.5" x2="455.9" y2="236.5" stroke="#666" stroke-width="0.6"/>
<line x1="453.5" y1="234.0" x2="455.9" y2="234.0" stroke="#666" stroke-width="0.6"/>
<line x1="454.4" y1="231.6" x2="455.9" y2="231.6" stroke="#666" stroke-width="0.6"/>
<line x1="454.4" y1="229.1" x2="455.9" y2="229.1" stroke="#666" stroke-width="0.6"/>
<line x1="454.4" y1="226.7" x2="455.9" y2="226.7" stroke="#666" stroke-width="0.6"/>
<line x1="454.4" y1="224.2" x2="455.9" y2="224.2" stroke="#666" stroke-width="0.6"/>
<text transform="translate(453.3,271.8) rotate(-90)" font-size="4" fill="#777" text-anchor="middle">6</text>
<text transform="translate(453.3,259.6) rotate(-90)" font-size="4" fill="#777" text-anchor="middle">12</text>
<text transform="translate(453.3,247.4) rotate(-90)" font-size="4" fill="#777" text-anchor="middle">18</text>
<text transform="translate(453.3,235.2) rotate(-90)" font-size="4" fill="#777" text-anchor="middle">24</text>
<line x1="455.9" y1="283.0" x2="455.9" y2="285.4" stroke="#666" stroke-width="0.6"/>
<line x1="457.8" y1="283.0" x2="457.8" y2="284.3" stroke="#666" stroke-width="0.6"/>
<line x1="459.8" y1="283.0" x2="459.8" y2="284.3" stroke="#666" stroke-width="0.6"/>
<line x1="461.7" y1="283.0" x2="461.7" y2="284.3" stroke="#666" stroke-width="0.6"/>
<line x1="463.7" y1="283.0" x2="463.7" y2="284.3" stroke="#666" stroke-width="0.6"/>
<line x1="465.6" y1="283.0" x2="465.6" y2="284.3" stroke="#666" stroke-width="0.6"/>
<line x1="467.6" y1="283.0" x2="467.6" y2="284.3" stroke="#666" stroke-width="0.6"/>
<line x1="469.5" y1="283.0" x2="469.5" y2="284.3" stroke="#666" stroke-width="0.6"/>
<line x1="471.5" y1="283.0" x2="471.5" y2="284.3" stroke="#666" stroke-width="0.6"/>
<line x1="473.4" y1="283.0" x2="473.4" y2="285.4" stroke="#666" stroke-width="0.6"/>
<line x1="475.4" y1="283.0" x2="475.4" y2="284.3" stroke="#666" stroke-width="0.6"/>
<line x1="477.3" y1="283.0" x2="477.3" y2="284.3" stroke="#666" stroke-width="0.6"/>
<line x1="479.3" y1="283.0" x2="479.3" y2="284.3" stroke="#666" stroke-width="0.6"/>
<line x1="481.2" y1="283.0" x2="481.2" y2="284.3" stroke="#666" stroke-width="0.6"/>
<line x1="483.2" y1="283.0" x2="483.2" y2="284.3" stroke="#666" stroke-width="0.6"/>
<line x1="485.1" y1="283.0" x2="485.1" y2="284.3" stroke="#666" stroke-width="0.6"/>
<line x1="487.1" y1="283.0" x2="487.1" y2="284.3" stroke="#666" stroke-width="0.6"/>
<line x1="489.0" y1="283.0" x2="489.0" y2="284.3" stroke="#666" stroke-width="0.6"/>
<line x1="491.0" y1="283.0" x2="491.0" y2="285.4" stroke="#666" stroke-width="0.6"/>
<line x1="492.9" y1="283.0" x2="492.9" y2="284.3" stroke="#666" stroke-width="0.6"/>
<line x1="494.9" y1="283.0" x2="494.9" y2="284.3" stroke="#666" stroke-width="0.6"/>
<line x1="496.8" y1="283.0" x2="496.8" y2="284.3" stroke="#666" stroke-width="0.6"/>
<line x1="498.8" y1="283.0" x2="498.8" y2="284.3" stroke="#666" stroke-width="0.6"/>
<line x1="500.7" y1="283.0" x2="500.7" y2="284.3" stroke="#666" stroke-width="0.6"/>
<line x1="502.7" y1="283.0" x2="502.7" y2="284.3" stroke="#666" stroke-width="0.6"/>
<line x1="504.6" y1="283.0" x2="504.6" y2="284.3" stroke="#666" stroke-width="0.6"/>
<line x1="506.6" y1="283.0" x2="506.6" y2="284.3" stroke="#666" stroke-width="0.6"/>
<line x1="508.5" y1="283.0" x2="508.5" y2="285.4" stroke="#666" stroke-width="0.6"/>
<line x1="510.5" y1="283.0" x2="510.5" y2="284.3" stroke="#666" stroke-width="0.6"/>
<line x1="512.4" y1="283.0" x2="512.4" y2="284.3" stroke="#666" stroke-width="0.6"/>
<line x1="514.4" y1="283.0" x2="514.4" y2="284.3" stroke="#666" stroke-width="0.6"/>
<line x1="516.3" y1="283.0" x2="516.3" y2="284.3" stroke="#666" stroke-width="0.6"/>
<line x1="518.3" y1="283.0" x2="518.3" y2="284.3" stroke="#666" stroke-width="0.6"/>
<line x1="520.2" y1="283.0" x2="520.2" y2="284.3" stroke="#666" stroke-width="0.6"/>
<line x1="522.2" y1="283.0" x2="522.2" y2="284.3" stroke="#666" stroke-width="0.6"/>
<line x1="524.1" y1="283.0" x2="524.1" y2="284.3" stroke="#666" stroke-width="0.6"/>
<text x="466.5" y="290.5" font-size="4" text-anchor="middle" fill="#777" >10</text>
<text x="484.0" y="290.5" font-size="4" text-anchor="middle" fill="#777" >10</text>
<text x="501.5" y="290.5" font-size="4" text-anchor="middle" fill="#777" >10</text>
<text x="519.0" y="290.5" font-size="4" text-anchor="middle" fill="#777" >10</text>
<path d="M478,283 L480,272 L481.2,265.5 L482.3,271 L483.2,255 L484.2,235 L485.3,223.2 L486.3,236 L487.3,255 L488.7,268 L489.5,266 L490.3,275 L491.5,270 L493,260 L494,255.5 L495,262 L496.3,273 L497.5,283 Z" fill="#7a7a7a" stroke="#1a1a1a" stroke-width="0.7" stroke-linejoin="round"/>
<line x1="535.9" y1="222.5" x2="535.9" y2="283.6" stroke="#333" stroke-width="1.0"/>
<line x1="535.4" y1="283.1" x2="604.8" y2="283.1" stroke="#333" stroke-width="1.0"/>
<line x1="533.5" y1="283.1" x2="535.9" y2="283.1" stroke="#666" stroke-width="0.6"/>
<line x1="534.4" y1="280.7" x2="535.9" y2="280.7" stroke="#666" stroke-width="0.6"/>
<line x1="534.4" y1="278.2" x2="535.9" y2="278.2" stroke="#666" stroke-width="0.6"/>
<line x1="534.4" y1="275.8" x2="535.9" y2="275.8" stroke="#666" stroke-width="0.6"/>
<line x1="534.4" y1="273.3" x2="535.9" y2="273.3" stroke="#666" stroke-width="0.6"/>
<line x1="533.5" y1="270.9" x2="535.9" y2="270.9" stroke="#666" stroke-width="0.6"/>
<line x1="534.4" y1="268.4" x2="535.9" y2="268.4" stroke="#666" stroke-width="0.6"/>
<line x1="534.4" y1="266.0" x2="535.9" y2="266.0" stroke="#666" stroke-width="0.6"/>
<line x1="534.4" y1="263.5" x2="535.9" y2="263.5" stroke="#666" stroke-width="0.6"/>
<line x1="534.4" y1="261.1" x2="535.9" y2="261.1" stroke="#666" stroke-width="0.6"/>
<line x1="533.5" y1="258.6" x2="535.9" y2="258.6" stroke="#666" stroke-width="0.6"/>
<line x1="534.4" y1="256.2" x2="535.9" y2="256.2" stroke="#666" stroke-width="0.6"/>
<line x1="534.4" y1="253.7" x2="535.9" y2="253.7" stroke="#666" stroke-width="0.6"/>
<line x1="534.4" y1="251.3" x2="535.9" y2="251.3" stroke="#666" stroke-width="0.6"/>
<line x1="534.4" y1="248.8" x2="535.9" y2="248.8" stroke="#666" stroke-width="0.6"/>
<line x1="533.5" y1="246.4" x2="535.9" y2="246.4" stroke="#666" stroke-width="0.6"/>
<line x1="534.4" y1="243.9" x2="535.9" y2="243.9" stroke="#666" stroke-width="0.6"/>
<line x1="534.4" y1="241.5" x2="535.9" y2="241.5" stroke="#666" stroke-width="0.6"/>
<line x1="534.4" y1="239.0" x2="535.9" y2="239.0" stroke="#666" stroke-width="0.6"/>
<line x1="534.4" y1="236.6" x2="535.9" y2="236.6" stroke="#666" stroke-width="0.6"/>
<line x1="533.5" y1="234.1" x2="535.9" y2="234.1" stroke="#666" stroke-width="0.6"/>
<line x1="534.4" y1="231.7" x2="535.9" y2="231.7" stroke="#666" stroke-width="0.6"/>
<line x1="534.4" y1="229.2" x2="535.9" y2="229.2" stroke="#666" stroke-width="0.6"/>
<line x1="534.4" y1="226.8" x2="535.9" y2="226.8" stroke="#666" stroke-width="0.6"/>
<line x1="534.4" y1="224.3" x2="535.9" y2="224.3" stroke="#666" stroke-width="0.6"/>
<text transform="translate(533.3,271.9) rotate(-90)" font-size="4" fill="#777" text-anchor="middle">6</text>
<text transform="translate(533.3,259.7) rotate(-90)" font-size="4" fill="#777" text-anchor="middle">12</text>
<text transform="translate(533.3,247.5) rotate(-90)" font-size="4" fill="#777" text-anchor="middle">18</text>
<text transform="translate(533.3,235.3) rotate(-90)" font-size="4" fill="#777" text-anchor="middle">24</text>
<line x1="535.9" y1="283.1" x2="535.9" y2="285.5" stroke="#666" stroke-width="0.6"/>
<line x1="537.9" y1="283.1" x2="537.9" y2="284.4" stroke="#666" stroke-width="0.6"/>
<line x1="539.8" y1="283.1" x2="539.8" y2="284.4" stroke="#666" stroke-width="0.6"/>
<line x1="541.8" y1="283.1" x2="541.8" y2="284.4" stroke="#666" stroke-width="0.6"/>
<line x1="543.7" y1="283.1" x2="543.7" y2="284.4" stroke="#666" stroke-width="0.6"/>
<line x1="545.7" y1="283.1" x2="545.7" y2="284.4" stroke="#666" stroke-width="0.6"/>
<line x1="547.6" y1="283.1" x2="547.6" y2="284.4" stroke="#666" stroke-width="0.6"/>
<line x1="549.6" y1="283.1" x2="549.6" y2="284.4" stroke="#666" stroke-width="0.6"/>
<line x1="551.5" y1="283.1" x2="551.5" y2="284.4" stroke="#666" stroke-width="0.6"/>
<line x1="553.5" y1="283.1" x2="553.5" y2="285.5" stroke="#666" stroke-width="0.6"/>
<line x1="555.4" y1="283.1" x2="555.4" y2="284.4" stroke="#666" stroke-width="0.6"/>
<line x1="557.4" y1="283.1" x2="557.4" y2="284.4" stroke="#666" stroke-width="0.6"/>
<line x1="559.3" y1="283.1" x2="559.3" y2="284.4" stroke="#666" stroke-width="0.6"/>
<line x1="561.3" y1="283.1" x2="561.3" y2="284.4" stroke="#666" stroke-width="0.6"/>
<line x1="563.2" y1="283.1" x2="563.2" y2="284.4" stroke="#666" stroke-width="0.6"/>
<line x1="565.2" y1="283.1" x2="565.2" y2="284.4" stroke="#666" stroke-width="0.6"/>
<line x1="567.1" y1="283.1" x2="567.1" y2="284.4" stroke="#666" stroke-width="0.6"/>
<line x1="569.1" y1="283.1" x2="569.1" y2="284.4" stroke="#666" stroke-width="0.6"/>
<line x1="571.0" y1="283.1" x2="571.0" y2="285.5" stroke="#666" stroke-width="0.6"/>
<line x1="573.0" y1="283.1" x2="573.0" y2="284.4" stroke="#666" stroke-width="0.6"/>
<line x1="574.9" y1="283.1" x2="574.9" y2="284.4" stroke="#666" stroke-width="0.6"/>
<line x1="576.9" y1="283.1" x2="576.9" y2="284.4" stroke="#666" stroke-width="0.6"/>
<line x1="578.8" y1="283.1" x2="578.8" y2="284.4" stroke="#666" stroke-width="0.6"/>
<line x1="580.8" y1="283.1" x2="580.8" y2="284.4" stroke="#666" stroke-width="0.6"/>
<line x1="582.7" y1="283.1" x2="582.7" y2="284.4" stroke="#666" stroke-width="0.6"/>
<line x1="584.7" y1="283.1" x2="584.7" y2="284.4" stroke="#666" stroke-width="0.6"/>
<line x1="586.6" y1="283.1" x2="586.6" y2="284.4" stroke="#666" stroke-width="0.6"/>
<line x1="588.6" y1="283.1" x2="588.6" y2="285.5" stroke="#666" stroke-width="0.6"/>
<line x1="590.5" y1="283.1" x2="590.5" y2="284.4" stroke="#666" stroke-width="0.6"/>
<line x1="592.5" y1="283.1" x2="592.5" y2="284.4" stroke="#666" stroke-width="0.6"/>
<line x1="594.4" y1="283.1" x2="594.4" y2="284.4" stroke="#666" stroke-width="0.6"/>
<line x1="596.4" y1="283.1" x2="596.4" y2="284.4" stroke="#666" stroke-width="0.6"/>
<line x1="598.3" y1="283.1" x2="598.3" y2="284.4" stroke="#666" stroke-width="0.6"/>
<line x1="600.3" y1="283.1" x2="600.3" y2="284.4" stroke="#666" stroke-width="0.6"/>
<line x1="602.2" y1="283.1" x2="602.2" y2="284.4" stroke="#666" stroke-width="0.6"/>
<line x1="604.2" y1="283.1" x2="604.2" y2="284.4" stroke="#666" stroke-width="0.6"/>
<text x="546.5" y="290.6" font-size="4" text-anchor="middle" fill="#777" >10</text>
<text x="564.0" y="290.6" font-size="4" text-anchor="middle" fill="#777" >10</text>
<text x="581.5" y="290.6" font-size="4" text-anchor="middle" fill="#777" >10</text>
<text x="599.0" y="290.6" font-size="4" text-anchor="middle" fill="#777" >10</text>
<path d="M558.5,283.1 L560,265 L561.5,250 L563,233 L564.2,223.1 L565.2,232 L566.5,248 L568,262 L569.3,272 L570.3,279 L571,272 L571.8,265 L572.7,271 L573.3,266 L574,259.7 L575,266 L576,275 L577.3,283.1 Z" fill="#7a7a7a" stroke="#1a1a1a" stroke-width="0.7" stroke-linejoin="round"/>
<path d="M394.8,283 L396.6,250 L397.9,238.5 L398.6,246 L399.8,283 Z" fill="#2e2e2e" opacity="0.75"/>
<path d="M406.2,283 L407.8,252 L409.0,241 L409.7,252 L410.6,283 Z" fill="#2e2e2e" opacity="0.75"/>
<path d="M483.4,283 L484.5,246 L485.3,226 L486.0,246 L486.9,283 Z" fill="#2e2e2e" opacity="0.75"/>
<path d="M492.8,283 L493.6,262 L494.1,258 L494.6,266 L495.3,283 Z" fill="#2e2e2e" opacity="0.75"/>
<path d="M481.0,283 L481.3,268 L481.8,283 Z" fill="#2e2e2e" opacity="0.75"/>
<path d="M561.6,283 L563.2,244 L564.2,226 L565.1,246 L566.6,283 Z" fill="#2e2e2e" opacity="0.75"/>
<path d="M573.2,283 L573.9,263 L574.6,283 Z" fill="#2e2e2e" opacity="0.75"/>
<text x="384.0" y="209.7" font-size="14" text-anchor="start" fill="#111" textLength="38.6" lengthAdjust="spacingAndGlyphs" >Naive</text>
<text x="391.6" y="233.1" font-size="12" text-anchor="start" fill="#111" textLength="26.2" lengthAdjust="spacingAndGlyphs" >P1P2</text>
<text x="495.2" y="190.0" font-size="14" text-anchor="start" fill="#111" textLength="56.4" lengthAdjust="spacingAndGlyphs" >Memory</text>
<line x1="456.9" y1="194.5" x2="580.6" y2="194.5" stroke="#000" stroke-width="1.9"/>
<text x="448.5" y="210.3" font-size="15.3" text-anchor="start" fill="#111" textLength="65.6" lengthAdjust="spacingAndGlyphs" word-spacing="-1.5">Wild Type</text>
<text x="541.0" y="210.3" font-size="14.5" text-anchor="start" fill="#111" textLength="37.2" lengthAdjust="spacingAndGlyphs" >IL-15</text>
<text x="577.9" y="204.3" font-size="13.5" text-anchor="start" fill="#111" textLength="17.0" lengthAdjust="spacingAndGlyphs" >-/-</text>
<line x1="667.0" y1="198.8" x2="667.0" y2="314.0" stroke="#000" stroke-width="2.2"/>
<line x1="666.0" y1="313.0" x2="772.0" y2="313.0" stroke="#000" stroke-width="2.2"/>
<text x="664.3" y="317.1" font-size="12.8" text-anchor="end" fill="#111" textLength="6.6" lengthAdjust="spacingAndGlyphs" >0</text>
<text x="664.3" y="303.0" font-size="12.8" text-anchor="end" fill="#111" textLength="12.6" lengthAdjust="spacingAndGlyphs" >10</text>
<text x="664.3" y="288.9" font-size="12.8" text-anchor="end" fill="#111" textLength="12.6" lengthAdjust="spacingAndGlyphs" >20</text>
<text x="664.3" y="274.8" font-size="12.8" text-anchor="end" fill="#111" textLength="12.6" lengthAdjust="spacingAndGlyphs" >30</text>
<text x="664.3" y="260.7" font-size="12.8" text-anchor="end" fill="#111" textLength="12.6" lengthAdjust="spacingAndGlyphs" >40</text>
<text x="664.3" y="246.6" font-size="12.8" text-anchor="end" fill="#111" textLength="12.6" lengthAdjust="spacingAndGlyphs" >50</text>
<text x="664.3" y="232.5" font-size="12.8" text-anchor="end" fill="#111" textLength="12.6" lengthAdjust="spacingAndGlyphs" >60</text>
<text x="664.3" y="218.4" font-size="12.8" text-anchor="end" fill="#111" textLength="12.6" lengthAdjust="spacingAndGlyphs" >70</text>
<text x="664.3" y="204.3" font-size="12.8" text-anchor="end" fill="#111" textLength="12.6" lengthAdjust="spacingAndGlyphs" >80</text>
<rect x="689.3" y="238.8" width="30.1" height="74.2" fill="#000"/>
<line x1="704.6" y1="215.3" x2="704.6" y2="238.8" stroke="#444" stroke-width="1.0"/>
<line x1="703.2" y1="215.6" x2="706.0" y2="215.6" stroke="#666" stroke-width="0.8"/>
<path d="M719.4,313.0 V219.9 H749.8 V313.0" fill="none" stroke="#777" stroke-width="1.1"/>
<line x1="734.6" y1="211.4" x2="734.6" y2="228.3" stroke="#444" stroke-width="1.0"/>
<line x1="733.2" y1="211.7" x2="736.0" y2="211.7" stroke="#444" stroke-width="0.9"/>
<line x1="733.2" y1="228.0" x2="736.0" y2="228.0" stroke="#444" stroke-width="0.9"/>
<rect x="672.8" y="185.2" width="6.6" height="6.7" fill="#000"/>
<rect x="673.6" y="199.2" width="5.0" height="4.6" fill="#fff" stroke="#000" stroke-width="1.6"/>
<text x="682.2" y="192.9" font-size="14.5" text-anchor="start" fill="#111" textLength="60.0" lengthAdjust="spacingAndGlyphs" word-spacing="-1.5">Wild Type</text>
<text x="681.9" y="208.2" font-size="14" text-anchor="start" fill="#111" textLength="50.3" lengthAdjust="spacingAndGlyphs" >IL-15-/-</text>
<text transform="translate(646.0,258.9) rotate(-90)" x="0" y="0" font-size="14.6" text-anchor="middle" fill="#111" stroke="#111" stroke-width="0.15" textLength="104.6" lengthAdjust="spacingAndGlyphs" word-spacing="-1.5">% Specific Killing</text>
<text x="684.8" y="328.0" font-size="14" text-anchor="start" fill="#111" textLength="72.5" lengthAdjust="spacingAndGlyphs" >Day 45 p.i.</text>
</svg></body></html>
